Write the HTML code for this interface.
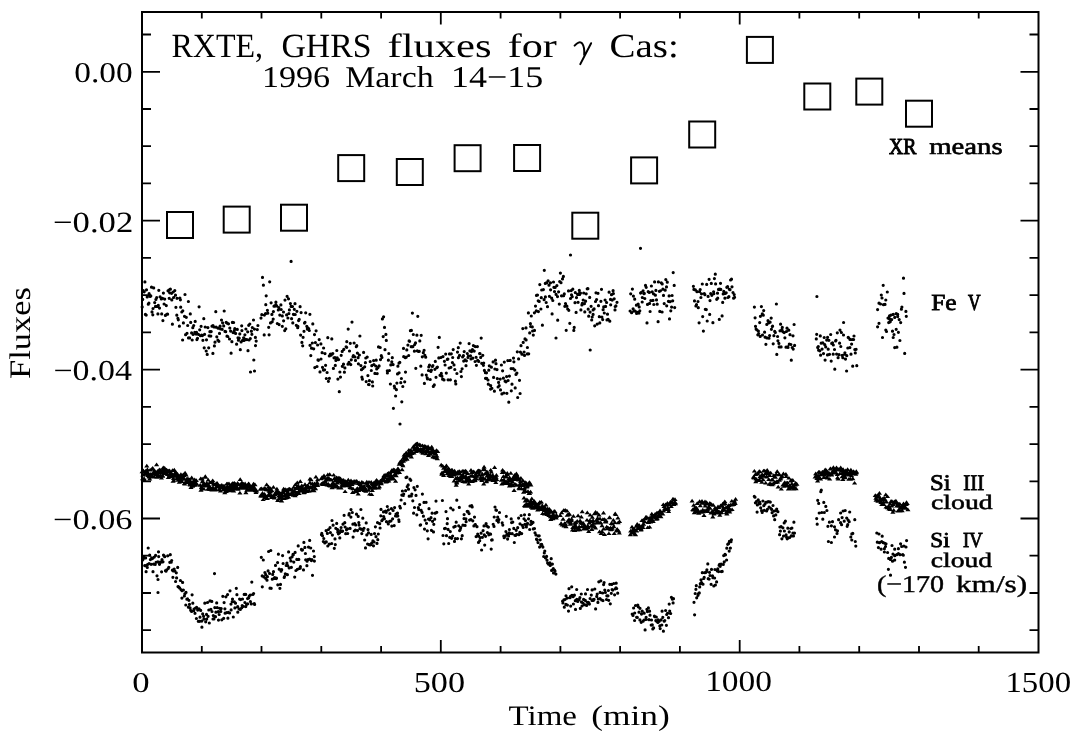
<!DOCTYPE html>
<html><head><meta charset="utf-8"><style>
html,body{margin:0;padding:0;background:#fff;overflow:hidden;}
svg{display:block;will-change:transform;}
text{font-family:"Liberation Serif",serif;text-rendering:geometricPrecision;}
</style></head><body>
<svg width="1078" height="738" viewBox="0 0 1078 738">
<rect width="1078" height="738" fill="#fff"/>
<rect x="142.0" y="12" width="896.5" height="640.5" fill="none" stroke="#000" stroke-width="2"/><path d="M142.0 34.5h9M1038.5 34.5h-9M142.0 71.8h18M1038.5 71.8h-18M142.0 109.0h9M1038.5 109.0h-9M142.0 146.2h9M1038.5 146.2h-9M142.0 183.4h9M1038.5 183.4h-9M142.0 220.7h18M1038.5 220.7h-18M142.0 257.9h9M1038.5 257.9h-9M142.0 295.1h9M1038.5 295.1h-9M142.0 332.4h9M1038.5 332.4h-9M142.0 369.6h18M1038.5 369.6h-18M142.0 406.8h9M1038.5 406.8h-9M142.0 444.1h9M1038.5 444.1h-9M142.0 481.3h9M1038.5 481.3h-9M142.0 518.5h18M1038.5 518.5h-18M142.0 555.7h9M1038.5 555.7h-9M142.0 593.0h9M1038.5 593.0h-9M142.0 630.2h9M1038.5 630.2h-9M201.8 652.5v-6.4M201.8 12v6.4M261.5 652.5v-6.4M261.5 12v6.4M321.3 652.5v-6.4M321.3 12v6.4M381.1 652.5v-6.4M381.1 12v6.4M440.8 652.5v-12.5M440.8 12v12.5M500.6 652.5v-6.4M500.6 12v6.4M560.4 652.5v-6.4M560.4 12v6.4M620.1 652.5v-6.4M620.1 12v6.4M679.9 652.5v-6.4M679.9 12v6.4M739.7 652.5v-12.5M739.7 12v12.5M799.4 652.5v-6.4M799.4 12v6.4M859.2 652.5v-6.4M859.2 12v6.4M919.0 652.5v-6.4M919.0 12v6.4M978.7 652.5v-6.4M978.7 12v6.4" stroke="#000" stroke-width="1.8" fill="none"/><g fill="none" stroke="#000" stroke-width="2"><rect x="167.00" y="212.00" width="26" height="26"/><rect x="223.70" y="206.60" width="26" height="26"/><rect x="281.00" y="204.70" width="26" height="26"/><rect x="338.20" y="155.10" width="26" height="26"/><rect x="396.80" y="159.00" width="26" height="26"/><rect x="454.60" y="145.20" width="26" height="26"/><rect x="514.10" y="145.00" width="26" height="26"/><rect x="572.30" y="212.70" width="26" height="26"/><rect x="631.10" y="157.40" width="26" height="26"/><rect x="689.20" y="121.50" width="26" height="26"/><rect x="746.90" y="36.90" width="26" height="26"/><rect x="804.30" y="83.50" width="26" height="26"/><rect x="856.30" y="78.60" width="26" height="26"/><rect x="906.00" y="100.70" width="26" height="26"/></g><path d="M142.2 306.9h0M142.7 299.4h0M143.3 290.6h0M144.2 291.8h0M144.9 281.9h0M145.4 314.4h0M146.2 315.1h0M146.5 289.8h0M147.2 296.9h0M148.3 304.2h0M148.9 303.2h0M149.1 293.7h0M150.2 296.5h0M150.8 295.9h0M151.5 287.2h0M152.0 311.9h0M152.8 314.8h0M153.0 308.5h0M153.7 287.9h0M154.7 302.6h0M155.5 306.4h0M155.9 299.4h0M156.7 297.6h0M157.3 306.4h0M157.9 313.9h0M158.3 305.3h0M158.8 290.3h0M159.5 308.1h0M160.1 296.8h0M161.3 298.9h0M161.7 313.9h0M162.5 298.3h0M162.9 320.6h0M163.4 293.1h0M164.1 304.0h0M164.7 299.1h0M165.4 315.4h0M166.3 305.6h0M166.9 314.3h0M167.6 314.2h0M168.0 290.8h0M168.8 290.0h0M169.2 298.3h0M169.7 292.8h0M170.4 289.2h0M171.6 293.3h0M171.8 299.9h0M172.4 324.2h0M173.2 292.0h0M173.6 297.5h0M174.8 290.6h0M175.5 295.2h0M175.9 307.3h0M176.8 315.2h0M177.0 298.3h0M177.9 318.3h0M178.3 319.8h0M179.4 326.2h0M179.9 298.0h0M180.4 299.8h0M180.7 307.2h0M181.8 312.0h0M182.6 340.0h0M182.8 310.8h0M183.4 322.9h0M184.5 316.3h0M185.0 294.5h0M185.6 334.7h0M186.3 317.3h0M187.0 333.3h0M187.7 325.5h0M188.4 301.5h0M188.5 337.9h0M189.6 337.9h0M190.3 313.9h0M190.7 322.4h0M191.6 332.9h0M192.2 340.0h0M192.8 327.7h0M193.1 334.5h0M193.7 325.5h0M194.8 332.3h0M195.2 321.4h0M196.1 334.1h0M196.5 332.3h0M196.9 339.6h0M197.5 338.3h0M198.4 334.3h0M199.1 306.8h0M199.7 329.8h0M200.5 335.7h0M201.1 326.3h0M201.7 335.0h0M202.4 335.6h0M202.9 340.3h0M203.8 318.7h0M204.2 347.8h0M204.6 334.3h0M205.2 327.0h0M206.2 351.0h0M206.5 339.8h0M207.2 354.4h0M207.9 327.6h0M208.7 347.8h0M209.1 335.8h0M209.9 331.7h0M210.8 336.1h0M211.2 331.6h0M212.0 326.2h0M212.9 353.4h0M213.0 325.5h0M214.0 327.0h0M214.4 345.9h0M215.0 342.2h0M215.8 311.7h0M216.1 327.2h0M216.8 336.8h0M217.9 340.2h0M218.1 328.2h0M218.9 341.3h0M219.5 333.4h0M220.1 326.2h0M220.7 329.0h0M221.5 320.0h0M222.2 329.3h0M222.6 322.8h0M223.7 325.9h0M224.2 311.0h0M225.0 331.4h0M225.7 331.7h0M226.2 322.4h0M227.0 336.2h0M227.3 323.2h0M227.8 336.5h0M228.5 323.8h0M229.5 339.0h0M229.8 328.0h0M230.6 331.1h0M231.1 353.2h0M231.9 341.7h0M232.4 322.4h0M233.1 332.6h0M233.6 322.5h0M234.3 330.6h0M234.8 328.7h0M235.6 333.4h0M236.6 344.2h0M237.3 329.4h0M238.0 337.8h0M238.4 340.2h0M239.2 338.2h0M239.8 333.9h0M240.3 349.7h0M241.1 341.9h0M241.7 325.8h0M241.9 330.6h0M242.6 340.3h0M243.6 337.8h0M244.1 340.4h0M244.9 334.8h0M245.5 339.3h0M245.9 329.0h0M246.9 339.6h0M247.7 331.8h0M248.0 350.7h0M248.7 325.3h0M249.1 340.0h0M249.8 324.0h0M250.3 338.6h0M251.4 331.2h0M251.9 334.3h0M252.3 327.5h0M253.5 320.0h0M253.8 360.0h0M254.4 329.1h0M255.4 337.4h0M255.5 345.6h0M256.2 341.1h0M257.3 329.6h0M257.9 325.5h0M261.0 318.1h0M261.8 314.7h0M262.5 277.4h0M263.4 285.2h0M264.2 334.9h0M264.4 315.1h0M265.5 313.7h0M265.8 304.7h0M266.2 295.8h0M267.4 310.3h0M267.8 313.2h0M268.7 327.3h0M269.1 334.8h0M269.7 281.8h0M270.5 322.9h0M271.1 302.8h0M271.9 314.4h0M272.2 321.8h0M273.2 319.1h0M273.4 311.6h0M274.0 306.2h0M275.1 306.1h0M275.8 304.8h0M275.9 302.2h0M276.7 305.9h0M277.3 323.5h0M278.3 310.0h0M278.8 307.7h0M279.1 324.6h0M279.8 315.1h0M280.9 304.9h0M281.2 309.5h0M282.3 326.3h0M282.3 315.9h0M283.5 312.0h0M283.6 320.8h0M284.7 330.6h0M285.0 300.1h0M285.8 328.8h0M286.6 314.9h0M287.1 296.3h0M287.9 318.0h0M288.5 298.8h0M288.9 313.6h0M289.4 309.9h0M290.4 303.6h0M291.1 306.4h0M291.6 318.7h0M292.5 306.5h0M292.8 322.9h0M293.4 314.3h0M294.3 309.3h0M295.0 303.7h0M295.2 314.5h0M296.3 325.3h0M296.9 311.3h0M297.7 327.7h0M297.9 326.4h0M298.6 320.6h0M299.2 319.4h0M300.1 306.7h0M300.6 335.1h0M301.1 312.6h0M301.9 342.4h0M302.7 345.8h0M303.1 337.3h0M304.0 331.3h0M304.5 323.1h0M305.0 322.3h0M305.7 312.8h0M306.8 326.3h0M307.3 329.1h0M307.5 327.5h0M308.7 328.6h0M309.3 330.5h0M309.9 314.3h0M310.0 345.3h0M310.8 355.6h0M311.5 348.2h0M312.3 343.0h0M312.8 323.9h0M313.7 348.8h0M314.5 334.6h0M314.8 367.6h0M315.4 342.6h0M316.1 330.8h0M317.0 366.5h0M317.6 345.0h0M318.0 359.9h0M318.4 360.3h0M319.2 339.6h0M320.0 371.9h0M320.9 343.9h0M321.0 359.0h0M322.1 352.7h0M322.5 367.3h0M323.4 370.1h0M323.6 348.0h0M324.6 369.8h0M325.0 353.6h0M325.6 365.3h0M326.3 378.5h0M327.1 372.5h0M327.8 337.7h0M328.4 381.3h0M329.3 355.9h0M329.4 378.3h0M330.4 354.1h0M331.2 355.1h0M331.8 338.9h0M332.3 353.9h0M332.8 353.5h0M333.4 368.4h0M334.0 357.8h0M335.0 357.5h0M335.3 365.4h0M335.9 360.4h0M336.8 350.5h0M337.2 357.8h0M337.9 379.1h0M338.6 359.6h0M339.3 391.7h0M339.9 372.0h0M340.5 377.1h0M341.2 355.3h0M342.2 351.4h0M342.3 366.3h0M343.5 364.2h0M343.8 349.4h0M344.4 372.2h0M344.9 367.9h0M346.1 346.8h0M346.7 347.3h0M346.8 341.7h0M348.0 364.2h0M348.2 329.1h0M349.0 362.4h0M349.5 351.0h0M350.3 343.3h0M350.8 364.6h0M351.3 359.8h0M352.0 322.1h0M353.0 356.7h0M353.4 355.7h0M354.1 343.0h0M354.8 356.8h0M355.5 360.4h0M356.3 346.7h0M356.8 345.7h0M357.4 353.1h0M358.1 357.7h0M358.4 363.8h0M359.4 355.0h0M359.9 336.0h0M360.9 365.6h0M361.5 369.7h0M361.9 377.2h0M362.4 379.2h0M362.9 368.4h0M363.6 352.4h0M364.7 366.8h0M365.4 362.7h0M365.8 358.0h0M366.2 381.6h0M367.2 357.1h0M367.9 375.6h0M368.5 384.5h0M369.1 384.6h0M369.4 380.7h0M370.2 361.6h0M371.3 370.5h0M371.8 365.7h0M372.4 381.9h0M372.7 386.0h0M373.6 360.6h0M373.9 364.5h0M374.9 373.4h0M375.7 366.0h0M376.2 360.2h0M376.7 369.0h0M377.2 373.6h0M377.9 367.7h0M378.5 346.9h0M379.1 365.9h0M380.2 347.5h0M380.5 359.6h0M381.3 355.7h0M381.9 357.4h0M382.4 318.9h0M383.2 336.6h0M383.6 316.8h0M384.5 327.4h0M385.0 349.7h0M385.9 334.4h0M386.3 340.4h0M387.3 370.8h0M387.4 372.9h0M388.4 360.2h0M388.8 353.5h0M389.4 370.5h0M390.4 384.0h0M390.8 364.9h0M391.8 361.8h0M392.3 357.7h0M393.1 364.6h0M393.4 408.3h0M394.3 386.2h0M394.7 387.9h0M395.6 396.0h0M396.4 389.7h0M396.9 383.1h0M397.5 373.9h0M397.9 366.2h0M399.0 363.1h0M399.1 372.8h0M399.8 362.4h0M400.8 382.7h0M401.4 378.5h0M401.8 401.8h0M402.8 386.5h0M403.5 348.4h0M403.7 356.7h0M404.7 381.8h0M405.4 357.7h0M405.5 372.1h0M406.2 357.2h0M406.8 349.9h0M407.9 345.1h0M408.7 355.5h0M409.1 340.9h0M409.6 341.3h0M410.4 330.7h0M411.2 346.7h0M411.4 330.4h0M412.4 313.1h0M412.9 346.6h0M413.3 334.5h0M414.4 351.2h0M414.7 344.5h0M415.5 342.9h0M415.8 368.3h0M416.9 335.2h0M417.3 350.8h0M417.8 316.3h0M418.5 351.5h0M419.3 351.3h0M419.8 340.9h0M420.8 366.2h0M421.2 335.3h0M422.1 374.9h0M422.3 356.8h0M423.3 352.7h0M424.1 350.3h0M424.4 383.4h0M424.9 355.3h0M425.7 357.2h0M426.3 375.1h0M427.2 377.8h0M427.5 379.0h0M428.5 370.5h0M428.8 366.9h0M429.5 365.2h0M430.2 379.5h0M430.9 371.5h0M431.4 370.2h0M432.4 366.5h0M432.9 365.6h0M433.3 386.4h0M434.3 384.9h0M434.9 369.3h0M435.3 361.4h0M436.0 377.3h0M436.8 367.7h0M437.4 367.1h0M438.1 347.3h0M438.8 357.9h0M439.3 337.4h0M440.0 375.3h0M440.9 357.5h0M441.3 373.4h0M441.9 376.2h0M442.6 379.2h0M443.0 356.6h0M444.0 379.9h0M444.4 361.3h0M445.1 365.0h0M445.7 354.1h0M446.3 373.1h0M447.3 359.4h0M447.9 359.1h0M448.1 379.8h0M449.1 368.0h0M449.5 353.9h0M450.4 379.8h0M450.9 367.3h0M451.3 353.8h0M452.4 362.5h0M452.7 357.5h0M453.2 349.6h0M454.0 364.9h0M454.8 369.5h0M455.4 381.2h0M455.8 383.9h0M456.9 373.5h0M457.5 352.1h0M458.3 347.7h0M458.4 357.7h0M459.5 355.4h0M460.2 343.1h0M460.9 371.5h0M461.4 376.6h0M462.1 368.8h0M462.6 356.9h0M463.4 355.7h0M463.7 361.1h0M464.2 351.6h0M465.1 359.9h0M466.0 365.7h0M466.4 360.8h0M467.3 353.5h0M468.0 357.4h0M468.4 356.0h0M469.1 343.6h0M469.9 350.8h0M470.5 355.8h0M471.0 359.0h0M471.5 351.6h0M472.4 349.6h0M472.8 358.2h0M473.4 345.6h0M474.2 351.1h0M475.1 361.5h0M475.3 346.6h0M476.1 357.3h0M476.4 365.3h0M477.4 346.6h0M477.7 360.3h0M478.7 361.4h0M479.6 353.6h0M480.0 353.6h0M480.7 357.4h0M481.2 338.1h0M481.7 363.3h0M482.8 355.3h0M483.4 365.3h0M483.7 363.0h0M484.4 370.4h0M485.4 372.7h0M485.5 378.3h0M486.5 372.8h0M486.7 378.3h0M488.0 380.0h0M488.3 384.2h0M488.8 370.2h0M489.3 365.8h0M490.6 389.1h0M490.7 385.7h0M491.4 367.2h0M491.9 388.3h0M493.1 361.9h0M493.6 377.4h0M494.4 391.2h0M494.9 369.0h0M495.5 360.2h0M496.0 363.7h0M497.0 369.6h0M497.3 378.6h0M498.1 387.0h0M498.6 382.4h0M499.2 385.7h0M500.2 379.1h0M500.5 389.9h0M501.4 365.0h0M501.9 393.9h0M502.6 370.8h0M503.4 378.2h0M503.9 393.0h0M504.3 362.1h0M505.1 381.2h0M506.0 381.8h0M506.6 376.6h0M506.9 393.3h0M507.8 360.6h0M508.1 380.5h0M508.8 402.2h0M509.4 376.1h0M510.2 360.4h0M511.1 368.6h0M511.3 390.8h0M512.0 384.2h0M513.1 368.6h0M513.5 358.1h0M513.9 361.8h0M514.8 370.1h0M515.2 387.9h0M516.0 374.4h0M516.9 373.1h0M517.3 351.8h0M517.7 397.5h0M518.6 358.9h0M519.5 380.3h0M520.1 393.5h0M520.4 352.1h0M521.0 345.7h0M521.9 354.2h0M522.8 328.6h0M523.2 342.4h0M524.1 352.0h0M524.5 355.4h0M525.0 338.9h0M526.0 327.9h0M526.1 339.9h0M527.3 353.9h0M527.4 347.5h0M528.4 312.9h0M528.7 353.8h0M529.7 332.9h0M530.4 323.7h0M530.7 326.5h0M531.3 316.0h0M532.3 326.9h0M532.6 331.0h0M533.3 335.1h0M534.4 312.8h0M534.5 330.4h0M535.5 306.1h0M536.3 310.9h0M536.5 295.4h0M537.5 295.0h0M538.2 300.8h0M538.4 311.6h0M539.2 301.4h0M539.8 284.6h0M540.9 309.0h0M541.3 297.7h0M541.7 290.0h0M542.4 325.2h0M543.4 289.6h0M544.1 299.7h0M544.3 270.3h0M545.3 283.4h0M545.4 296.9h0M546.2 302.5h0M546.8 282.7h0M547.5 306.7h0M548.1 280.8h0M549.0 285.2h0M549.4 296.3h0M550.5 282.8h0M550.6 289.8h0M551.7 298.2h0M552.1 313.9h0M552.8 300.5h0M553.5 282.0h0M553.9 287.3h0M554.5 291.6h0M555.1 287.4h0M556.1 294.4h0M556.9 285.6h0M557.5 296.6h0M557.7 320.2h0M558.6 291.8h0M559.3 304.1h0M559.7 281.5h0M560.4 273.1h0M561.0 282.7h0M561.5 295.8h0M562.5 278.9h0M563.4 276.4h0M563.6 295.7h0M564.3 293.9h0M564.8 306.3h0M565.5 303.5h0M566.2 330.3h0M566.9 306.2h0M567.7 309.0h0M568.5 290.9h0M568.8 310.3h0M569.8 323.3h0M570.5 298.5h0M571.2 290.6h0M571.5 294.8h0M572.2 296.7h0M572.8 289.2h0M573.8 330.4h0M574.2 327.4h0M575.0 302.7h0M575.3 292.6h0M576.1 312.4h0M576.5 297.6h0M577.6 294.4h0M578.1 302.3h0M578.9 293.6h0M579.3 290.4h0M579.7 294.4h0M580.5 293.1h0M580.9 309.9h0M581.9 304.9h0M582.3 303.3h0M583.2 300.0h0M583.7 293.0h0M584.4 303.7h0M584.8 311.9h0M585.6 301.2h0M586.2 293.8h0M587.2 288.8h0M587.9 288.7h0M588.2 309.2h0M588.7 316.2h0M589.7 297.4h0M590.1 312.1h0M591.1 306.3h0M591.7 320.0h0M592.2 317.0h0M593.1 314.4h0M593.1 309.9h0M594.1 308.9h0M594.7 325.8h0M595.5 301.5h0M596.0 292.8h0M596.6 299.5h0M597.2 324.1h0M598.0 293.3h0M598.5 305.7h0M599.3 316.7h0M599.8 322.9h0M600.9 301.3h0M601.5 289.3h0M601.9 317.1h0M602.7 319.6h0M603.1 309.7h0M603.7 306.9h0M604.3 313.0h0M605.1 300.0h0M605.6 306.4h0M606.6 302.5h0M607.0 319.9h0M607.5 314.2h0M608.1 319.3h0M609.1 292.2h0M609.8 321.2h0M610.5 299.4h0M610.7 304.8h0M611.5 294.7h0M612.2 300.1h0M613.1 290.7h0M613.4 293.6h0M614.2 298.8h0M615.0 309.9h0M615.2 306.5h0M615.9 305.9h0M617.0 302.3h0M630.1 311.0h0M630.7 293.8h0M631.6 312.7h0M632.4 289.1h0M633.1 308.8h0M633.4 296.1h0M633.9 311.1h0M634.7 299.2h0M635.2 311.1h0M636.4 305.2h0M636.6 313.5h0M637.6 312.3h0M638.2 304.2h0M639.0 313.1h0M639.2 306.9h0M639.8 310.8h0M640.6 293.1h0M641.0 292.7h0M642.2 302.0h0M642.3 297.5h0M643.1 290.8h0M644.0 293.7h0M644.3 293.4h0M644.8 298.5h0M645.5 285.4h0M646.2 287.3h0M647.0 322.9h0M647.5 304.4h0M648.2 291.7h0M649.3 292.4h0M649.6 303.4h0M650.1 311.5h0M650.8 300.5h0M651.4 286.0h0M652.2 291.8h0M653.0 300.4h0M653.5 293.8h0M653.8 304.5h0M654.6 281.9h0M655.4 295.2h0M655.9 290.4h0M656.5 299.9h0M657.2 304.2h0M658.1 321.7h0M658.4 281.9h0M659.4 291.3h0M659.8 311.4h0M660.4 290.8h0M661.3 282.8h0M662.1 312.0h0M662.2 283.9h0M662.9 289.2h0M663.5 295.4h0M664.2 303.6h0M665.2 290.2h0M665.8 279.6h0M666.5 286.9h0M666.7 305.8h0M667.3 282.2h0M668.4 301.3h0M669.1 295.9h0M669.5 318.9h0M670.0 301.7h0M670.8 310.8h0M671.6 307.1h0M672.1 295.5h0M672.7 300.8h0M673.2 272.6h0M674.2 285.4h0M674.7 307.6h0M693.4 286.3h0M693.9 289.4h0M694.5 300.9h0M695.4 289.9h0M695.9 306.0h0M696.5 304.7h0M697.0 291.7h0M698.0 301.5h0M698.3 307.7h0M699.1 322.8h0M699.5 291.6h0M700.2 289.6h0M700.9 297.5h0M701.5 293.8h0M702.3 284.0h0M702.7 316.6h0M703.4 331.1h0M704.3 293.6h0M704.9 294.7h0M705.3 309.3h0M706.3 309.6h0M706.7 284.4h0M707.2 321.0h0M708.1 296.4h0M709.1 279.3h0M709.7 314.4h0M710.0 300.6h0M710.7 293.6h0M711.3 283.4h0M711.8 295.3h0M712.9 322.7h0M713.6 291.8h0M713.8 293.7h0M714.4 278.6h0M715.3 274.2h0M715.6 283.9h0M716.7 299.3h0M717.5 293.2h0M717.7 298.2h0M718.5 289.4h0M719.3 319.4h0M719.6 289.2h0M720.5 283.3h0M720.8 289.4h0M722.1 315.9h0M722.7 302.4h0M723.2 293.9h0M723.8 291.4h0M724.6 292.9h0M724.9 298.2h0M725.3 293.5h0M726.2 292.8h0M726.8 287.3h0M727.6 286.7h0M728.0 297.5h0M728.9 296.7h0M729.3 289.3h0M730.0 289.7h0M730.6 280.0h0M731.5 279.2h0M732.0 286.8h0M733.0 292.5h0M733.6 298.2h0M734.2 294.6h0M734.6 297.3h0M754.4 307.1h0M755.1 317.8h0M755.5 326.3h0M756.1 329.1h0M756.8 329.8h0M757.8 334.8h0M758.4 331.0h0M758.7 333.5h0M759.7 322.6h0M760.2 336.4h0M760.4 316.3h0M761.4 306.6h0M762.3 313.9h0M762.5 335.0h0M763.3 315.2h0M763.7 310.6h0M764.6 332.2h0M765.1 337.2h0M765.9 344.3h0M766.8 324.4h0M766.9 337.9h0M768.0 320.7h0M768.6 322.9h0M769.0 338.2h0M769.6 335.6h0M770.1 322.2h0M771.2 318.1h0M771.4 329.3h0M772.3 326.6h0M772.6 326.2h0M773.2 343.8h0M773.9 335.7h0M774.7 331.4h0M775.3 332.4h0M776.4 304.0h0M776.8 354.4h0M777.6 336.5h0M777.9 340.8h0M778.9 343.4h0M779.2 346.9h0M780.0 330.8h0M780.6 324.2h0M781.1 346.9h0M781.9 329.6h0M782.3 327.4h0M782.8 331.6h0M783.8 332.3h0M784.2 332.6h0M784.9 337.8h0M786.0 347.2h0M786.4 331.5h0M787.0 328.2h0M787.8 346.8h0M788.0 347.5h0M788.8 330.2h0M789.3 344.2h0M790.0 334.7h0M790.9 344.5h0M791.3 360.2h0M792.2 347.5h0M793.0 335.8h0M793.2 349.1h0M794.1 324.5h0M794.6 345.4h0M816.3 338.9h0M816.7 334.3h0M817.7 347.4h0M818.3 346.5h0M818.6 350.2h0M819.8 350.8h0M820.3 335.9h0M820.6 355.2h0M821.2 343.2h0M822.1 349.1h0M822.8 342.8h0M823.5 353.6h0M824.2 337.5h0M824.8 344.7h0M825.1 360.1h0M825.7 346.9h0M826.7 340.1h0M827.5 354.9h0M827.6 337.3h0M828.2 349.2h0M828.9 340.3h0M829.5 354.3h0M830.7 334.5h0M831.2 361.1h0M831.7 343.4h0M832.5 342.8h0M833.2 354.2h0M833.3 345.0h0M834.5 349.5h0M834.8 369.2h0M835.6 340.9h0M836.0 340.3h0M836.6 354.1h0M837.3 332.8h0M838.1 357.7h0M839.0 354.7h0M839.6 343.2h0M840.0 330.1h0M840.8 346.5h0M841.4 332.5h0M842.2 355.4h0M842.8 357.7h0M843.5 335.0h0M843.6 322.5h0M844.8 354.2h0M844.9 352.8h0M845.5 359.1h0M846.6 371.0h0M846.8 355.7h0M847.8 348.0h0M848.2 337.4h0M848.7 337.8h0M849.9 347.6h0M850.0 339.4h0M851.0 354.2h0M851.6 344.1h0M852.2 339.5h0M852.7 366.2h0M853.6 339.5h0M854.0 336.0h0M854.8 349.5h0M855.3 352.9h0M856.1 349.3h0M856.8 365.7h0M883.2 285.3h0M887.3 292.0h0M881.3 295.0h0M882.0 298.0h0M885.8 300.0h0M879.0 303.2h0M880.5 304.0h0M883.5 304.7h0M885.0 304.4h0M877.6 309.6h0M903.5 278.2h0M904.0 293.4h0M901.9 307.0h0M901.4 309.2h0M905.9 311.4h0M906.3 316.3h0M889.5 315.9h0M891.0 315.1h0M893.2 314.4h0M896.2 313.7h0M897.7 314.4h0M888.0 318.1h0M889.5 318.9h0M891.7 319.6h0M894.7 317.4h0M897.7 316.6h0M888.7 322.6h0M890.2 321.8h0M899.2 319.6h0M900.7 322.6h0M879.0 323.3h0M877.6 326.8h0M885.8 330.0h0M886.5 331.5h0M892.5 331.2h0M896.2 329.3h0M898.4 332.3h0M894.0 334.5h0M893.2 337.5h0M882.5 337.5h0M899.9 340.5h0M894.7 347.6h0M896.9 347.2h0M904.7 353.4h0M250.5 372.0h0M254.5 371.0h0M291.1 261.4h0M570.5 255.0h0M556.0 338.0h0M590.2 350.0h0M640.5 248.3h0M816.9 296.5h0M400.0 424.0h0M142.5 560.1h0M142.9 559.6h0M143.6 556.8h0M144.7 565.6h0M145.3 565.7h0M145.6 557.9h0M146.1 571.7h0M147.3 567.4h0M147.5 564.6h0M148.2 548.0h0M149.1 563.6h0M149.7 555.2h0M150.4 559.6h0M151.1 564.3h0M151.7 557.9h0M152.4 558.6h0M153.0 571.7h0M153.6 564.1h0M154.3 557.1h0M155.2 564.4h0M155.6 555.4h0M156.1 562.3h0M157.0 575.8h0M157.9 561.8h0M158.5 551.8h0M158.7 556.6h0M159.5 564.3h0M160.2 562.2h0M161.3 562.1h0M161.6 571.8h0M162.0 559.5h0M163.0 561.8h0M163.5 555.1h0M164.1 555.9h0M164.7 556.7h0M165.5 570.7h0M166.0 571.2h0M166.7 569.9h0M167.7 555.8h0M168.2 568.5h0M168.8 567.3h0M169.8 562.3h0M170.3 554.7h0M171.2 562.2h0M171.7 560.5h0M172.4 570.2h0M172.9 577.3h0M173.3 570.9h0M174.2 569.1h0M174.9 571.1h0M175.6 581.5h0M176.3 572.8h0M176.6 577.9h0M177.7 567.4h0M178.0 586.6h0M178.6 586.9h0M179.6 587.9h0M180.4 580.5h0M181.0 589.6h0M181.9 598.1h0M182.0 590.7h0M182.6 582.4h0M183.4 590.0h0M184.4 596.0h0M184.8 593.9h0M185.8 605.0h0M186.0 592.4h0M186.9 599.2h0M187.5 598.9h0M188.4 607.2h0M188.9 600.3h0M189.5 604.3h0M190.1 607.9h0M190.7 610.3h0M191.6 611.5h0M192.1 594.8h0M192.8 603.2h0M193.8 610.6h0M194.0 609.2h0M195.0 613.3h0M195.6 608.0h0M196.4 618.5h0M196.6 607.4h0M197.7 610.1h0M198.3 621.3h0M199.0 608.9h0M199.6 621.3h0M200.0 617.2h0M200.7 610.4h0M201.8 621.1h0M201.9 627.2h0M202.7 613.9h0M203.6 616.3h0M203.9 619.1h0M204.8 603.2h0M205.7 621.8h0M206.5 614.4h0M206.7 619.1h0M207.5 602.5h0M208.1 616.3h0M208.8 610.0h0M209.3 623.0h0M210.0 600.9h0M210.9 609.3h0M211.8 601.4h0M212.0 611.5h0M213.0 619.0h0M213.3 615.6h0M213.9 618.9h0M214.8 607.6h0M215.5 616.7h0M215.9 612.2h0M216.7 602.9h0M217.2 607.6h0M218.3 611.7h0M218.5 620.1h0M219.2 614.5h0M219.8 608.3h0M220.8 611.4h0M221.2 608.6h0M221.8 619.8h0M222.8 596.3h0M223.7 618.3h0M224.1 602.6h0M224.9 608.8h0M225.1 613.2h0M225.9 596.8h0M226.8 612.6h0M227.6 594.6h0M227.9 618.2h0M228.4 612.3h0M229.6 613.0h0M230.0 590.8h0M231.0 604.1h0M231.1 609.9h0M232.2 601.6h0M232.5 599.0h0M233.3 617.0h0M234.3 601.8h0M234.9 607.9h0M235.5 603.2h0M236.3 588.3h0M236.9 594.7h0M237.7 606.7h0M237.8 612.2h0M239.0 608.8h0M239.6 599.1h0M240.3 609.4h0M240.6 599.6h0M241.7 607.8h0M242.2 605.5h0M242.5 599.0h0M243.2 606.4h0M244.2 594.4h0M244.9 602.5h0M245.7 594.4h0M245.8 606.6h0M246.6 604.4h0M247.6 598.6h0M247.7 603.8h0M248.6 597.9h0M249.2 596.2h0M250.2 595.1h0M250.4 601.5h0M251.3 603.9h0M251.8 582.1h0M252.9 594.4h0M253.6 593.5h0M254.3 603.6h0M254.6 604.4h0M261.3 557.3h0M262.2 575.9h0M262.3 586.8h0M263.3 560.0h0M263.9 576.9h0M264.9 572.5h0M265.6 578.3h0M265.7 574.4h0M267.0 580.2h0M267.4 576.7h0M268.1 570.9h0M268.6 551.5h0M269.6 573.5h0M270.0 588.2h0M270.8 550.5h0M271.2 588.3h0M272.3 579.2h0M272.7 574.4h0M273.5 571.7h0M274.2 578.5h0M274.6 577.5h0M275.5 565.4h0M276.3 578.6h0M276.5 578.2h0M277.6 562.6h0M277.8 584.8h0M278.4 554.2h0M279.2 569.2h0M279.9 588.3h0M280.5 584.4h0M281.1 571.2h0M281.7 569.7h0M282.6 555.6h0M283.1 563.5h0M284.2 577.4h0M284.5 576.6h0M285.3 573.8h0M286.2 565.5h0M286.9 563.0h0M287.4 574.7h0M287.7 565.7h0M288.6 551.9h0M289.2 567.9h0M290.2 558.1h0M290.9 560.9h0M291.4 567.3h0M292.1 556.8h0M293.0 554.4h0M293.3 554.7h0M293.8 562.1h0M294.7 577.1h0M295.1 552.4h0M295.9 570.5h0M296.8 559.4h0M297.4 569.3h0M298.2 545.9h0M298.8 559.4h0M299.6 568.4h0M300.2 568.2h0M300.4 566.7h0M301.4 549.4h0M302.1 550.2h0M302.5 549.8h0M303.5 569.9h0M303.9 542.4h0M304.9 547.4h0M305.4 553.5h0M305.7 559.8h0M306.9 565.7h0M307.1 561.2h0M307.9 559.7h0M308.5 547.1h0M309.6 559.1h0M309.7 540.4h0M310.7 548.0h0M311.4 560.6h0M311.9 559.5h0M312.5 575.3h0M313.5 551.0h0M314.3 556.6h0M314.4 561.1h0M321.5 534.7h0M321.8 533.4h0M322.5 535.7h0M323.3 541.5h0M323.8 538.5h0M324.8 543.0h0M325.6 542.1h0M326.1 530.7h0M326.3 541.9h0M327.4 533.4h0M327.8 546.0h0M328.5 529.5h0M329.2 544.2h0M330.0 527.7h0M330.4 532.6h0M331.7 543.5h0M332.0 520.5h0M332.4 535.1h0M333.1 525.2h0M334.3 548.3h0M335.0 538.9h0M335.3 544.6h0M335.8 528.3h0M336.7 523.4h0M337.6 529.7h0M337.7 532.0h0M338.4 533.8h0M339.6 532.8h0M339.8 537.9h0M340.6 530.7h0M341.1 527.5h0M342.1 531.4h0M342.6 531.1h0M343.0 524.2h0M344.1 515.3h0M344.8 522.7h0M345.1 527.0h0M345.7 533.7h0M346.5 529.8h0M347.5 528.8h0M347.7 533.5h0M348.9 515.0h0M349.2 513.7h0M350.1 528.4h0M350.9 517.1h0M351.0 509.6h0M352.3 512.5h0M352.9 524.2h0M353.1 537.1h0M354.3 531.0h0M354.7 523.6h0M355.4 530.0h0M355.7 524.9h0M356.5 514.2h0M357.5 530.6h0M358.2 516.4h0M358.8 522.6h0M359.1 525.1h0M359.9 528.6h0M360.9 509.5h0M361.2 529.2h0M361.8 533.6h0M362.8 518.2h0M363.1 530.5h0M364.0 528.3h0M364.7 540.0h0M365.5 547.9h0M366.2 522.9h0M366.8 534.9h0M367.6 544.0h0M368.0 529.6h0M368.5 532.8h0M369.1 544.7h0M370.1 544.9h0M370.9 544.6h0M371.2 534.4h0M371.7 543.0h0M372.9 540.9h0M373.5 545.8h0M374.0 541.9h0M374.5 533.6h0M375.4 526.8h0M376.0 536.7h0M377.0 543.4h0M377.5 522.6h0M377.8 539.7h0M378.3 534.0h0M379.7 523.7h0M380.1 528.0h0M380.8 515.8h0M381.0 509.4h0M381.8 520.7h0M382.7 519.5h0M383.5 511.9h0M383.7 516.6h0M384.4 518.7h0M385.6 511.1h0M386.2 512.3h0M386.5 521.7h0M387.3 506.5h0M388.3 523.9h0M388.4 509.9h0M389.6 521.4h0M389.9 513.5h0M390.9 521.0h0M391.4 508.7h0M391.8 526.1h0M392.6 518.8h0M393.1 510.5h0M394.2 525.6h0M394.6 507.6h0M395.5 516.0h0M396.0 514.1h0M396.9 516.2h0M397.5 513.1h0M397.8 515.9h0M398.8 519.8h0M399.0 521.5h0M399.8 506.4h0M400.4 508.0h0M401.1 500.0h0M401.8 495.1h0M402.4 491.0h0M403.3 495.5h0M403.7 494.0h0M404.7 503.7h0M405.6 490.7h0M406.0 477.6h0M406.9 477.2h0M407.2 486.7h0M408.2 484.9h0M408.5 489.2h0M409.2 496.2h0M410.0 479.2h0M410.8 480.3h0M411.3 496.0h0M411.8 494.2h0M412.8 500.8h0M413.6 513.2h0M413.9 487.6h0M414.5 507.5h0M415.1 489.8h0M416.0 495.4h0M416.8 514.8h0M417.3 486.3h0M418.3 507.7h0M418.7 509.4h0M419.7 504.6h0M420.2 525.2h0M420.6 524.8h0M421.2 510.4h0M422.1 512.4h0M422.4 494.1h0M423.4 516.2h0M424.0 502.4h0M424.5 529.1h0M425.1 520.1h0M426.1 502.3h0M426.5 523.3h0M427.3 530.8h0M428.1 538.8h0M428.5 519.1h0M429.0 508.7h0M429.7 519.8h0M431.0 517.7h0M431.4 530.3h0M432.1 513.2h0M432.5 521.3h0M433.5 531.9h0M433.8 524.3h0M434.7 519.2h0M435.2 513.2h0M436.0 501.1h0M436.8 512.3h0M442.4 500.5h0M443.0 535.5h0M443.8 543.8h0M444.5 528.6h0M445.3 528.3h0M446.0 511.6h0M446.5 535.7h0M447.2 523.7h0M447.5 518.7h0M448.1 529.4h0M448.7 543.5h0M449.7 537.3h0M450.3 531.6h0M450.7 508.0h0M451.6 538.3h0M452.6 536.0h0M453.1 509.8h0M453.8 527.1h0M454.5 541.4h0M455.3 526.3h0M455.3 538.6h0M456.2 522.2h0M456.8 500.2h0M457.5 538.6h0M458.7 525.8h0M459.3 507.4h0M459.6 530.6h0M460.3 529.5h0M460.7 527.7h0M461.4 538.8h0M462.2 535.7h0M462.9 525.2h0M464.0 518.6h0M464.1 514.6h0M465.1 525.4h0M465.9 518.8h0M466.1 521.7h0M467.2 511.3h0M467.8 511.9h0M468.1 511.5h0M469.1 513.6h0M469.6 520.1h0M470.0 506.0h0M470.9 519.7h0M471.7 505.5h0M472.2 507.0h0M472.8 520.8h0M473.9 525.9h0M474.5 517.1h0M475.1 524.6h0M475.4 524.5h0M476.1 536.6h0M477.0 526.7h0M477.7 534.1h0M478.5 542.4h0M478.7 536.2h0M479.7 540.7h0M480.1 537.6h0M481.1 533.2h0M481.6 550.0h0M482.4 537.3h0M483.1 530.6h0M484.0 525.9h0M484.3 534.8h0M484.7 545.1h0M485.6 536.3h0M486.1 523.5h0M486.9 526.1h0M487.4 532.6h0M488.4 527.1h0M488.8 534.8h0M489.6 533.9h0M490.6 534.2h0M491.2 549.1h0M491.6 540.1h0M492.2 539.9h0M493.2 524.3h0M494.0 526.4h0M494.2 517.0h0M495.0 507.0h0M495.9 510.1h0M496.5 510.3h0M496.9 520.4h0M497.7 517.2h0M498.4 522.1h0M498.9 519.6h0M499.5 512.5h0M502.2 522.8h0M502.8 525.1h0M503.8 536.2h0M504.2 537.7h0M505.3 536.2h0M505.9 531.5h0M506.3 516.3h0M507.0 534.1h0M507.6 539.1h0M508.6 536.0h0M509.2 532.9h0M509.4 529.5h0M510.3 533.5h0M511.2 518.9h0M511.6 522.6h0M512.2 533.7h0M512.8 522.1h0M513.8 528.4h0M514.3 542.5h0M514.9 535.3h0M515.6 535.5h0M516.2 530.3h0M516.7 534.3h0M517.7 527.7h0M518.6 518.1h0M518.9 534.7h0M519.8 532.4h0M520.0 523.8h0M521.1 515.5h0M521.7 533.6h0M522.2 525.3h0M523.2 527.4h0M524.0 518.8h0M524.5 514.8h0M524.9 524.3h0M525.5 520.6h0M526.4 526.9h0M527.3 524.3h0M527.5 523.4h0M528.5 518.8h0M529.3 514.7h0M529.7 529.5h0M530.6 524.5h0M531.0 521.4h0M531.9 523.6h0M532.2 522.8h0M533.0 522.4h0M533.3 528.9h0M534.5 528.5h0M535.0 532.8h0M535.9 534.9h0M536.5 539.2h0M537.1 539.8h0M538.0 542.6h0M538.3 535.9h0M539.2 535.8h0M539.6 547.1h0M540.2 539.8h0M540.8 544.5h0M541.7 544.4h0M542.1 545.5h0M542.9 547.1h0M543.7 556.5h0M544.3 552.9h0M544.8 551.0h0M545.4 557.8h0M546.6 556.4h0M547.0 560.2h0M547.6 563.0h0M548.4 564.1h0M549.2 563.4h0M549.9 562.9h0M550.2 565.5h0M551.2 558.7h0M551.6 570.4h0M552.4 564.1h0M553.3 568.5h0M553.5 573.0h0M554.5 570.0h0M555.0 571.1h0M555.9 574.1h0M562.6 601.2h0M562.9 603.0h0M563.9 599.9h0M564.3 607.2h0M565.0 599.5h0M565.9 604.4h0M566.0 595.8h0M567.2 598.1h0M567.4 605.1h0M568.5 611.1h0M569.0 588.7h0M570.0 597.7h0M570.5 596.3h0M570.7 606.1h0M571.7 586.8h0M572.0 595.3h0M573.1 596.7h0M573.4 604.0h0M574.4 595.2h0M575.3 600.7h0M575.5 609.4h0M576.7 589.5h0M576.8 599.4h0M577.8 601.5h0M578.5 599.9h0M579.2 599.7h0M579.9 597.6h0M580.3 608.4h0M581.3 594.0h0M581.5 602.1h0M582.0 606.0h0M583.0 603.0h0M583.6 599.4h0M584.5 604.7h0M585.3 600.4h0M585.5 593.9h0M586.6 605.4h0M587.2 602.3h0M587.5 589.5h0M588.4 602.3h0M589.0 603.3h0M589.4 604.1h0M590.1 598.5h0M591.3 595.1h0M592.0 600.5h0M592.1 589.9h0M593.2 599.5h0M593.5 600.3h0M594.1 599.3h0M594.8 589.0h0M595.6 608.9h0M596.7 596.4h0M597.2 594.1h0M597.9 602.4h0M598.3 599.0h0M598.8 581.8h0M600.0 598.6h0M600.1 592.4h0M600.8 580.8h0M601.7 600.0h0M602.6 593.0h0M603.0 600.6h0M603.6 584.6h0M604.1 582.6h0M604.8 590.0h0M605.4 592.4h0M606.5 599.5h0M606.8 595.8h0M608.0 595.8h0M608.4 590.5h0M608.7 600.3h0M609.8 584.3h0M610.3 603.8h0M611.3 593.3h0M611.7 584.4h0M612.1 589.6h0M612.8 590.1h0M613.8 583.5h0M614.6 594.8h0M615.3 588.8h0M616.0 587.9h0M616.2 583.2h0M616.7 588.5h0M617.7 593.2h0M632.2 614.1h0M633.0 615.5h0M633.6 608.0h0M634.6 620.5h0M634.7 613.0h0M635.5 605.5h0M636.6 617.3h0M637.3 617.4h0M637.8 605.1h0M638.3 606.8h0M639.0 612.2h0M639.9 619.9h0M640.0 608.3h0M641.2 622.3h0M641.5 614.1h0M642.2 611.1h0M643.1 621.2h0M644.0 620.0h0M644.2 613.2h0M645.1 629.9h0M646.0 619.4h0M646.1 617.3h0M646.9 609.3h0M647.4 611.6h0M648.4 607.9h0M649.0 619.7h0M649.6 611.2h0M650.0 615.2h0M651.2 625.1h0M651.5 620.0h0M652.3 624.8h0M652.8 628.9h0M653.6 627.9h0M654.4 616.1h0M654.7 616.7h0M655.8 620.6h0M656.3 617.0h0M656.8 621.5h0M657.9 622.5h0M658.1 619.9h0M659.2 621.3h0M659.8 625.9h0M660.2 628.6h0M661.1 619.9h0M661.8 625.0h0M662.1 611.2h0M662.8 617.3h0M663.4 631.2h0M664.2 621.2h0M664.8 620.5h0M665.6 610.5h0M666.4 625.3h0M666.7 614.5h0M667.5 613.3h0M668.5 617.7h0M669.2 604.1h0M669.7 611.1h0M670.5 613.5h0M670.7 613.5h0M671.4 597.3h0M672.4 599.2h0M673.1 602.9h0M673.5 598.7h0M694.0 602.3h0M695.2 593.5h0M695.9 589.3h0M696.3 585.7h0M696.7 597.8h0M698.0 595.3h0M698.5 593.6h0M699.3 592.9h0M699.7 586.9h0M700.3 583.7h0M701.0 579.8h0M701.5 582.6h0M702.3 572.7h0M703.0 584.2h0M703.8 578.5h0M704.2 577.4h0M704.9 572.7h0M705.8 572.4h0M706.5 571.7h0M706.9 569.8h0M707.8 563.9h0M708.2 578.7h0M709.1 579.1h0M709.5 572.3h0M710.0 575.5h0M711.1 584.3h0M711.5 569.4h0M712.5 575.8h0M712.9 577.7h0M713.8 586.0h0M714.6 578.0h0M714.9 569.5h0M715.4 585.0h0M716.6 581.9h0M717.3 570.9h0M717.8 568.9h0M718.6 571.6h0M719.1 565.3h0M719.6 564.3h0M720.2 566.3h0M721.1 564.2h0M721.3 571.6h0M722.2 571.4h0M723.3 564.5h0M723.7 555.6h0M724.2 561.9h0M725.0 554.4h0M725.5 554.8h0M726.6 560.0h0M726.8 548.2h0M727.7 544.3h0M728.5 543.7h0M729.2 551.1h0M729.4 541.3h0M730.4 548.1h0M731.0 541.7h0M731.4 539.8h0M754.3 496.4h0M755.0 497.2h0M755.4 502.8h0M756.3 501.7h0M757.1 512.1h0M757.4 504.9h0M758.2 499.8h0M759.3 502.9h0M759.7 502.2h0M760.1 503.8h0M760.7 507.8h0M761.6 510.7h0M762.2 512.4h0M762.9 501.0h0M763.8 505.7h0M764.3 510.3h0M765.0 504.1h0M765.8 502.4h0M766.6 511.0h0M767.0 502.2h0M767.4 509.3h0M768.2 501.6h0M769.1 507.0h0M769.5 501.8h0M770.3 502.1h0M770.9 508.5h0M771.7 509.4h0M772.1 512.7h0M773.0 505.5h0M773.6 515.9h0M774.4 511.0h0M774.7 519.7h0M775.8 514.9h0M776.1 510.5h0M776.7 509.0h0M777.9 511.7h0M779.6 534.7h0M779.9 527.0h0M780.4 531.1h0M781.1 526.7h0M781.9 538.8h0M782.9 527.8h0M783.5 536.1h0M784.2 522.9h0M784.4 531.0h0M785.4 521.2h0M786.1 534.9h0M786.6 537.3h0M787.2 538.8h0M787.8 528.2h0M788.5 537.8h0M789.2 531.9h0M789.7 537.5h0M790.9 528.5h0M791.2 535.9h0M791.9 528.1h0M792.9 533.0h0M793.5 536.0h0M793.9 522.2h0M794.5 533.1h0M820.8 491.7h0M821.3 490.2h0M817.7 500.3h0M818.7 503.4h0M823.8 502.4h0M825.8 506.4h0M819.2 513.0h0M821.8 512.5h0M824.3 512.5h0M826.9 510.5h0M816.7 518.6h0M822.8 519.2h0M817.2 524.2h0M827.9 526.3h0M829.4 522.2h0M832.5 521.7h0M831.4 525.8h0M834.5 526.8h0M835.5 529.8h0M837.5 530.8h0M837.0 533.4h0M834.5 537.0h0M828.4 541.5h0M831.4 542.5h0M840.6 513.0h0M843.1 511.0h0M845.2 510.5h0M849.7 512.0h0M838.6 519.7h0M842.1 517.6h0M840.6 522.7h0M841.6 524.7h0M844.2 521.2h0M846.7 518.1h0M848.2 520.2h0M849.2 521.7h0M847.7 524.7h0M847.2 526.3h0M854.8 519.7h0M851.8 533.9h0M852.8 533.4h0M850.8 537.0h0M851.8 540.0h0M855.3 541.5h0M855.8 546.1h0M158.0 579.5h0M158.0 592.5h0M214.5 573.6h0M694.6 614.8h0M876.8 533.0h0M879.0 534.0h0M882.2 536.2h0M877.3 542.2h0M879.5 542.7h0M881.7 541.7h0M883.3 542.7h0M884.9 543.3h0M886.0 543.8h0M878.4 547.6h0M881.1 549.2h0M884.4 548.7h0M885.5 546.5h0M884.4 552.0h0M887.6 552.5h0M892.0 545.5h0M894.7 549.2h0M898.4 548.7h0M900.6 543.8h0M901.7 546.5h0M903.9 546.0h0M906.0 547.0h0M906.6 540.6h0M893.0 554.1h0M894.7 555.7h0M896.8 554.7h0M898.4 553.6h0M900.0 554.7h0M902.8 554.7h0M903.3 555.2h0M888.7 558.4h0M890.3 559.5h0M892.5 561.2h0M894.7 560.1h0M891.4 557.4h0M904.4 562.2h0M905.5 567.3h0M888.4 569.3h0M890.5 575.2h0" stroke="#000" stroke-width="3.2" stroke-linecap="round" fill="none"/><path d="M142.1 469.6l2.6 3.7h-5.2zM142.6 476.5l2.6 3.7h-5.2zM142.9 472.7l2.6 3.7h-5.2zM143.4 468.5l2.6 3.7h-5.2zM143.8 477.1l2.6 3.7h-5.2zM144.2 476.5l2.6 3.7h-5.2zM144.5 478.0l2.6 3.7h-5.2zM144.8 471.8l2.6 3.7h-5.2zM145.3 469.5l2.6 3.7h-5.2zM145.8 468.7l2.6 3.7h-5.2zM145.9 469.2l2.6 3.7h-5.2zM146.4 472.0l2.6 3.7h-5.2zM146.8 463.7l2.6 3.7h-5.2zM147.4 467.4l2.6 3.7h-5.2zM147.7 472.9l2.6 3.7h-5.2zM147.9 470.4l2.6 3.7h-5.2zM148.4 473.3l2.6 3.7h-5.2zM148.8 472.2l2.6 3.7h-5.2zM148.9 474.5l2.6 3.7h-5.2zM149.4 474.9l2.6 3.7h-5.2zM149.7 476.7l2.6 3.7h-5.2zM150.1 467.9l2.6 3.7h-5.2zM150.6 472.2l2.6 3.7h-5.2zM150.9 471.9l2.6 3.7h-5.2zM151.4 474.5l2.6 3.7h-5.2zM151.7 467.1l2.6 3.7h-5.2zM152.1 474.2l2.6 3.7h-5.2zM152.7 466.0l2.6 3.7h-5.2zM152.8 471.2l2.6 3.7h-5.2zM153.5 470.2l2.6 3.7h-5.2zM153.6 470.6l2.6 3.7h-5.2zM154.1 474.7l2.6 3.7h-5.2zM154.6 468.8l2.6 3.7h-5.2zM154.8 468.8l2.6 3.7h-5.2zM155.3 471.5l2.6 3.7h-5.2zM155.7 472.4l2.6 3.7h-5.2zM156.2 470.6l2.6 3.7h-5.2zM156.6 462.6l2.6 3.7h-5.2zM156.9 475.0l2.6 3.7h-5.2zM157.2 469.8l2.6 3.7h-5.2zM157.7 468.9l2.6 3.7h-5.2zM158.0 473.1l2.6 3.7h-5.2zM158.2 470.0l2.6 3.7h-5.2zM158.8 468.2l2.6 3.7h-5.2zM159.2 474.2l2.6 3.7h-5.2zM159.4 474.4l2.6 3.7h-5.2zM159.7 467.6l2.6 3.7h-5.2zM160.4 473.6l2.6 3.7h-5.2zM160.6 470.6l2.6 3.7h-5.2zM161.0 468.2l2.6 3.7h-5.2zM161.4 475.8l2.6 3.7h-5.2zM161.8 469.2l2.6 3.7h-5.2zM162.4 473.1l2.6 3.7h-5.2zM162.7 474.1l2.6 3.7h-5.2zM162.9 467.7l2.6 3.7h-5.2zM163.3 465.4l2.6 3.7h-5.2zM163.7 469.9l2.6 3.7h-5.2zM164.0 471.2l2.6 3.7h-5.2zM164.7 466.0l2.6 3.7h-5.2zM164.9 467.8l2.6 3.7h-5.2zM165.2 467.1l2.6 3.7h-5.2zM165.7 468.1l2.6 3.7h-5.2zM166.2 470.3l2.6 3.7h-5.2zM166.5 471.0l2.6 3.7h-5.2zM166.7 467.8l2.6 3.7h-5.2zM167.1 468.4l2.6 3.7h-5.2zM167.4 472.4l2.6 3.7h-5.2zM167.8 469.0l2.6 3.7h-5.2zM168.3 475.4l2.6 3.7h-5.2zM168.6 468.7l2.6 3.7h-5.2zM169.3 473.3l2.6 3.7h-5.2zM169.6 468.5l2.6 3.7h-5.2zM170.0 474.5l2.6 3.7h-5.2zM170.2 469.7l2.6 3.7h-5.2zM170.6 473.5l2.6 3.7h-5.2zM171.0 474.1l2.6 3.7h-5.2zM171.3 471.0l2.6 3.7h-5.2zM171.7 473.1l2.6 3.7h-5.2zM172.2 472.0l2.6 3.7h-5.2zM172.5 468.3l2.6 3.7h-5.2zM173.1 479.1l2.6 3.7h-5.2zM173.5 476.4l2.6 3.7h-5.2zM173.8 478.1l2.6 3.7h-5.2zM174.2 473.2l2.6 3.7h-5.2zM174.3 467.7l2.6 3.7h-5.2zM174.8 471.2l2.6 3.7h-5.2zM175.3 470.4l2.6 3.7h-5.2zM175.7 474.0l2.6 3.7h-5.2zM176.1 470.2l2.6 3.7h-5.2zM176.3 471.8l2.6 3.7h-5.2zM176.8 476.3l2.6 3.7h-5.2zM177.3 473.8l2.6 3.7h-5.2zM177.6 472.0l2.6 3.7h-5.2zM178.1 478.1l2.6 3.7h-5.2zM178.5 478.1l2.6 3.7h-5.2zM178.6 477.0l2.6 3.7h-5.2zM179.3 480.0l2.6 3.7h-5.2zM179.4 475.1l2.6 3.7h-5.2zM179.8 478.1l2.6 3.7h-5.2zM180.4 477.5l2.6 3.7h-5.2zM180.5 476.3l2.6 3.7h-5.2zM180.9 472.3l2.6 3.7h-5.2zM181.3 473.5l2.6 3.7h-5.2zM181.9 479.3l2.6 3.7h-5.2zM182.1 475.4l2.6 3.7h-5.2zM182.4 475.3l2.6 3.7h-5.2zM182.8 474.4l2.6 3.7h-5.2zM183.2 472.6l2.6 3.7h-5.2zM183.6 473.4l2.6 3.7h-5.2zM184.2 477.1l2.6 3.7h-5.2zM184.4 481.3l2.6 3.7h-5.2zM184.8 481.9l2.6 3.7h-5.2zM185.1 470.7l2.6 3.7h-5.2zM185.7 479.7l2.6 3.7h-5.2zM186.1 472.8l2.6 3.7h-5.2zM186.4 477.1l2.6 3.7h-5.2zM186.7 478.7l2.6 3.7h-5.2zM187.3 479.1l2.6 3.7h-5.2zM187.7 478.8l2.6 3.7h-5.2zM187.9 476.4l2.6 3.7h-5.2zM188.2 480.4l2.6 3.7h-5.2zM188.9 480.3l2.6 3.7h-5.2zM189.3 478.6l2.6 3.7h-5.2zM189.5 477.6l2.6 3.7h-5.2zM189.7 481.8l2.6 3.7h-5.2zM190.2 482.7l2.6 3.7h-5.2zM190.5 479.5l2.6 3.7h-5.2zM191.0 485.2l2.6 3.7h-5.2zM191.4 481.0l2.6 3.7h-5.2zM191.7 475.6l2.6 3.7h-5.2zM192.0 476.1l2.6 3.7h-5.2zM192.6 484.1l2.6 3.7h-5.2zM192.9 483.2l2.6 3.7h-5.2zM193.4 479.0l2.6 3.7h-5.2zM193.7 481.9l2.6 3.7h-5.2zM194.1 481.8l2.6 3.7h-5.2zM194.7 479.8l2.6 3.7h-5.2zM194.7 477.5l2.6 3.7h-5.2zM195.2 483.1l2.6 3.7h-5.2zM195.8 482.0l2.6 3.7h-5.2zM196.1 480.7l2.6 3.7h-5.2zM196.3 478.3l2.6 3.7h-5.2zM196.8 481.9l2.6 3.7h-5.2zM200.2 483.1l2.6 3.7h-5.2zM200.7 476.5l2.6 3.7h-5.2zM201.0 488.0l2.6 3.7h-5.2zM201.4 485.0l2.6 3.7h-5.2zM201.8 485.5l2.6 3.7h-5.2zM202.2 476.7l2.6 3.7h-5.2zM202.5 479.1l2.6 3.7h-5.2zM203.0 479.6l2.6 3.7h-5.2zM203.3 482.0l2.6 3.7h-5.2zM203.8 486.7l2.6 3.7h-5.2zM203.9 482.2l2.6 3.7h-5.2zM204.5 483.2l2.6 3.7h-5.2zM204.8 482.3l2.6 3.7h-5.2zM205.3 474.3l2.6 3.7h-5.2zM205.5 475.1l2.6 3.7h-5.2zM206.1 483.8l2.6 3.7h-5.2zM206.5 481.3l2.6 3.7h-5.2zM206.6 482.8l2.6 3.7h-5.2zM207.2 483.5l2.6 3.7h-5.2zM207.7 487.1l2.6 3.7h-5.2zM207.8 481.8l2.6 3.7h-5.2zM208.2 477.8l2.6 3.7h-5.2zM208.7 487.1l2.6 3.7h-5.2zM208.9 483.1l2.6 3.7h-5.2zM209.6 486.5l2.6 3.7h-5.2zM209.8 487.3l2.6 3.7h-5.2zM210.0 480.4l2.6 3.7h-5.2zM210.5 485.4l2.6 3.7h-5.2zM211.0 486.4l2.6 3.7h-5.2zM211.4 486.7l2.6 3.7h-5.2zM211.9 487.8l2.6 3.7h-5.2zM212.3 479.7l2.6 3.7h-5.2zM212.7 478.4l2.6 3.7h-5.2zM213.0 485.4l2.6 3.7h-5.2zM213.4 481.7l2.6 3.7h-5.2zM213.8 481.7l2.6 3.7h-5.2zM214.1 487.5l2.6 3.7h-5.2zM214.5 482.5l2.6 3.7h-5.2zM214.8 487.8l2.6 3.7h-5.2zM215.4 486.5l2.6 3.7h-5.2zM215.7 487.3l2.6 3.7h-5.2zM216.1 481.6l2.6 3.7h-5.2zM216.3 484.8l2.6 3.7h-5.2zM216.9 481.9l2.6 3.7h-5.2zM217.1 480.9l2.6 3.7h-5.2zM217.4 482.0l2.6 3.7h-5.2zM218.0 483.4l2.6 3.7h-5.2zM218.4 484.4l2.6 3.7h-5.2zM218.7 484.4l2.6 3.7h-5.2zM219.0 487.5l2.6 3.7h-5.2zM219.6 487.5l2.6 3.7h-5.2zM219.7 484.3l2.6 3.7h-5.2zM220.1 483.7l2.6 3.7h-5.2zM220.5 488.9l2.6 3.7h-5.2zM221.0 484.9l2.6 3.7h-5.2zM221.5 485.2l2.6 3.7h-5.2zM221.8 482.9l2.6 3.7h-5.2zM222.1 485.8l2.6 3.7h-5.2zM222.6 485.2l2.6 3.7h-5.2zM223.1 484.7l2.6 3.7h-5.2zM223.4 484.1l2.6 3.7h-5.2zM223.5 487.6l2.6 3.7h-5.2zM224.2 484.0l2.6 3.7h-5.2zM224.5 485.1l2.6 3.7h-5.2zM224.8 490.6l2.6 3.7h-5.2zM225.4 489.2l2.6 3.7h-5.2zM225.5 487.2l2.6 3.7h-5.2zM226.1 489.3l2.6 3.7h-5.2zM226.2 489.4l2.6 3.7h-5.2zM226.7 481.7l2.6 3.7h-5.2zM227.2 484.6l2.6 3.7h-5.2zM227.4 488.2l2.6 3.7h-5.2zM227.8 481.7l2.6 3.7h-5.2zM228.3 485.8l2.6 3.7h-5.2zM228.8 486.8l2.6 3.7h-5.2zM229.0 481.6l2.6 3.7h-5.2zM229.5 484.6l2.6 3.7h-5.2zM230.0 483.8l2.6 3.7h-5.2zM230.2 488.5l2.6 3.7h-5.2zM230.7 484.3l2.6 3.7h-5.2zM230.9 484.9l2.6 3.7h-5.2zM231.4 485.7l2.6 3.7h-5.2zM231.7 482.1l2.6 3.7h-5.2zM232.1 487.9l2.6 3.7h-5.2zM232.4 484.3l2.6 3.7h-5.2zM232.9 481.0l2.6 3.7h-5.2zM233.1 486.2l2.6 3.7h-5.2zM233.7 488.9l2.6 3.7h-5.2zM234.0 485.0l2.6 3.7h-5.2zM234.5 480.9l2.6 3.7h-5.2zM234.8 486.4l2.6 3.7h-5.2zM235.3 484.0l2.6 3.7h-5.2zM235.5 481.9l2.6 3.7h-5.2zM236.1 486.1l2.6 3.7h-5.2zM236.3 485.7l2.6 3.7h-5.2zM236.8 484.8l2.6 3.7h-5.2zM237.0 486.7l2.6 3.7h-5.2zM237.6 481.0l2.6 3.7h-5.2zM237.9 487.0l2.6 3.7h-5.2zM238.1 487.1l2.6 3.7h-5.2zM238.8 482.5l2.6 3.7h-5.2zM239.0 482.5l2.6 3.7h-5.2zM239.6 486.1l2.6 3.7h-5.2zM239.9 490.8l2.6 3.7h-5.2zM240.2 477.2l2.6 3.7h-5.2zM240.8 484.4l2.6 3.7h-5.2zM241.0 482.6l2.6 3.7h-5.2zM241.3 484.5l2.6 3.7h-5.2zM241.9 480.4l2.6 3.7h-5.2zM242.3 483.9l2.6 3.7h-5.2zM242.4 485.5l2.6 3.7h-5.2zM243.0 483.7l2.6 3.7h-5.2zM243.4 481.8l2.6 3.7h-5.2zM243.7 486.0l2.6 3.7h-5.2zM244.0 483.0l2.6 3.7h-5.2zM244.3 486.1l2.6 3.7h-5.2zM244.9 486.1l2.6 3.7h-5.2zM245.1 481.5l2.6 3.7h-5.2zM245.5 484.4l2.6 3.7h-5.2zM245.9 490.5l2.6 3.7h-5.2zM246.3 485.9l2.6 3.7h-5.2zM246.8 488.0l2.6 3.7h-5.2zM247.4 483.1l2.6 3.7h-5.2zM247.5 483.9l2.6 3.7h-5.2zM248.1 487.2l2.6 3.7h-5.2zM248.3 487.7l2.6 3.7h-5.2zM248.6 481.4l2.6 3.7h-5.2zM249.1 482.0l2.6 3.7h-5.2zM249.4 484.1l2.6 3.7h-5.2zM249.8 486.8l2.6 3.7h-5.2zM250.3 488.0l2.6 3.7h-5.2zM250.8 484.4l2.6 3.7h-5.2zM251.0 487.7l2.6 3.7h-5.2zM251.5 488.1l2.6 3.7h-5.2zM251.9 486.3l2.6 3.7h-5.2zM252.1 487.4l2.6 3.7h-5.2zM252.5 486.1l2.6 3.7h-5.2zM252.8 484.2l2.6 3.7h-5.2zM253.5 486.5l2.6 3.7h-5.2zM253.5 481.7l2.6 3.7h-5.2zM254.0 482.2l2.6 3.7h-5.2zM254.6 485.8l2.6 3.7h-5.2zM255.0 482.6l2.6 3.7h-5.2zM255.4 488.4l2.6 3.7h-5.2zM255.6 488.6l2.6 3.7h-5.2zM256.0 490.4l2.6 3.7h-5.2zM256.3 488.5l2.6 3.7h-5.2zM256.7 488.8l2.6 3.7h-5.2zM260.3 487.0l2.6 3.7h-5.2zM260.8 493.9l2.6 3.7h-5.2zM261.0 492.9l2.6 3.7h-5.2zM261.3 486.5l2.6 3.7h-5.2zM261.9 494.1l2.6 3.7h-5.2zM262.1 487.0l2.6 3.7h-5.2zM262.5 491.0l2.6 3.7h-5.2zM262.7 493.1l2.6 3.7h-5.2zM263.2 497.4l2.6 3.7h-5.2zM263.8 493.2l2.6 3.7h-5.2zM264.1 486.3l2.6 3.7h-5.2zM264.6 492.1l2.6 3.7h-5.2zM264.9 486.5l2.6 3.7h-5.2zM265.3 486.6l2.6 3.7h-5.2zM265.4 494.3l2.6 3.7h-5.2zM265.8 495.2l2.6 3.7h-5.2zM266.4 487.6l2.6 3.7h-5.2zM266.7 482.6l2.6 3.7h-5.2zM267.1 496.3l2.6 3.7h-5.2zM267.3 496.0l2.6 3.7h-5.2zM268.0 493.3l2.6 3.7h-5.2zM268.3 487.8l2.6 3.7h-5.2zM268.6 484.8l2.6 3.7h-5.2zM269.2 489.0l2.6 3.7h-5.2zM269.3 492.8l2.6 3.7h-5.2zM269.8 491.0l2.6 3.7h-5.2zM270.2 486.3l2.6 3.7h-5.2zM270.4 489.5l2.6 3.7h-5.2zM270.8 486.8l2.6 3.7h-5.2zM271.5 495.2l2.6 3.7h-5.2zM271.8 494.1l2.6 3.7h-5.2zM272.0 488.5l2.6 3.7h-5.2zM272.5 494.3l2.6 3.7h-5.2zM272.7 494.8l2.6 3.7h-5.2zM273.4 485.0l2.6 3.7h-5.2zM273.5 493.8l2.6 3.7h-5.2zM274.1 494.4l2.6 3.7h-5.2zM274.4 495.8l2.6 3.7h-5.2zM274.8 492.5l2.6 3.7h-5.2zM275.2 492.3l2.6 3.7h-5.2zM275.4 490.8l2.6 3.7h-5.2zM275.9 490.3l2.6 3.7h-5.2zM276.3 490.4l2.6 3.7h-5.2zM276.9 486.8l2.6 3.7h-5.2zM277.2 491.2l2.6 3.7h-5.2zM277.5 489.1l2.6 3.7h-5.2zM277.7 498.4l2.6 3.7h-5.2zM278.2 490.0l2.6 3.7h-5.2zM278.5 496.9l2.6 3.7h-5.2zM278.9 493.7l2.6 3.7h-5.2zM279.5 490.7l2.6 3.7h-5.2zM279.7 495.4l2.6 3.7h-5.2zM280.3 492.7l2.6 3.7h-5.2zM280.7 491.4l2.6 3.7h-5.2zM280.8 494.2l2.6 3.7h-5.2zM281.2 494.3l2.6 3.7h-5.2zM281.7 498.7l2.6 3.7h-5.2zM282.1 492.8l2.6 3.7h-5.2zM282.4 496.2l2.6 3.7h-5.2zM282.9 489.2l2.6 3.7h-5.2zM283.2 490.2l2.6 3.7h-5.2zM283.6 486.8l2.6 3.7h-5.2zM284.1 496.4l2.6 3.7h-5.2zM284.6 493.0l2.6 3.7h-5.2zM284.6 493.2l2.6 3.7h-5.2zM285.2 487.3l2.6 3.7h-5.2zM285.4 488.6l2.6 3.7h-5.2zM285.9 495.7l2.6 3.7h-5.2zM286.3 492.5l2.6 3.7h-5.2zM286.6 488.1l2.6 3.7h-5.2zM287.0 495.4l2.6 3.7h-5.2zM287.3 487.7l2.6 3.7h-5.2zM287.7 490.1l2.6 3.7h-5.2zM288.3 490.8l2.6 3.7h-5.2zM288.6 494.9l2.6 3.7h-5.2zM289.0 486.7l2.6 3.7h-5.2zM289.6 492.4l2.6 3.7h-5.2zM289.7 487.0l2.6 3.7h-5.2zM290.3 492.3l2.6 3.7h-5.2zM290.5 487.5l2.6 3.7h-5.2zM290.8 492.0l2.6 3.7h-5.2zM291.3 492.1l2.6 3.7h-5.2zM291.7 487.7l2.6 3.7h-5.2zM292.0 490.5l2.6 3.7h-5.2zM292.4 487.8l2.6 3.7h-5.2zM292.8 492.4l2.6 3.7h-5.2zM293.3 493.1l2.6 3.7h-5.2zM293.7 485.1l2.6 3.7h-5.2zM293.9 489.6l2.6 3.7h-5.2zM294.5 488.5l2.6 3.7h-5.2zM294.7 492.8l2.6 3.7h-5.2zM295.1 493.5l2.6 3.7h-5.2zM295.4 482.4l2.6 3.7h-5.2zM296.0 492.3l2.6 3.7h-5.2zM296.2 485.8l2.6 3.7h-5.2zM296.8 490.4l2.6 3.7h-5.2zM297.1 486.3l2.6 3.7h-5.2zM297.3 480.6l2.6 3.7h-5.2zM297.9 485.3l2.6 3.7h-5.2zM298.2 483.6l2.6 3.7h-5.2zM298.5 489.4l2.6 3.7h-5.2zM299.0 491.2l2.6 3.7h-5.2zM299.2 485.4l2.6 3.7h-5.2zM299.8 488.1l2.6 3.7h-5.2zM300.2 486.4l2.6 3.7h-5.2zM300.3 479.2l2.6 3.7h-5.2zM300.8 488.2l2.6 3.7h-5.2zM301.4 485.2l2.6 3.7h-5.2zM301.8 483.4l2.6 3.7h-5.2zM302.1 486.1l2.6 3.7h-5.2zM302.3 485.2l2.6 3.7h-5.2zM302.7 485.8l2.6 3.7h-5.2zM303.1 487.1l2.6 3.7h-5.2zM303.6 489.3l2.6 3.7h-5.2zM303.8 490.5l2.6 3.7h-5.2zM304.5 490.0l2.6 3.7h-5.2zM304.8 486.9l2.6 3.7h-5.2zM305.0 482.3l2.6 3.7h-5.2zM305.7 485.0l2.6 3.7h-5.2zM305.9 487.8l2.6 3.7h-5.2zM306.4 489.4l2.6 3.7h-5.2zM306.6 488.2l2.6 3.7h-5.2zM307.1 484.0l2.6 3.7h-5.2zM307.3 484.3l2.6 3.7h-5.2zM307.9 483.5l2.6 3.7h-5.2zM308.2 489.0l2.6 3.7h-5.2zM308.5 484.2l2.6 3.7h-5.2zM309.1 485.5l2.6 3.7h-5.2zM309.3 488.8l2.6 3.7h-5.2zM309.9 480.6l2.6 3.7h-5.2zM310.0 476.8l2.6 3.7h-5.2zM310.6 485.1l2.6 3.7h-5.2zM310.9 485.1l2.6 3.7h-5.2zM311.1 477.6l2.6 3.7h-5.2zM311.5 485.7l2.6 3.7h-5.2zM312.2 488.6l2.6 3.7h-5.2zM312.3 481.4l2.6 3.7h-5.2zM312.9 484.2l2.6 3.7h-5.2zM313.3 484.1l2.6 3.7h-5.2zM313.7 482.6l2.6 3.7h-5.2zM314.0 488.5l2.6 3.7h-5.2zM314.5 481.4l2.6 3.7h-5.2zM314.8 486.6l2.6 3.7h-5.2zM315.1 485.8l2.6 3.7h-5.2zM315.5 486.5l2.6 3.7h-5.2zM315.9 474.7l2.6 3.7h-5.2zM316.4 482.8l2.6 3.7h-5.2zM316.8 481.1l2.6 3.7h-5.2zM317.1 480.2l2.6 3.7h-5.2zM317.6 477.6l2.6 3.7h-5.2zM317.7 483.4l2.6 3.7h-5.2zM321.1 476.5l2.6 3.7h-5.2zM321.4 481.8l2.6 3.7h-5.2zM322.0 475.3l2.6 3.7h-5.2zM322.4 482.1l2.6 3.7h-5.2zM322.9 480.7l2.6 3.7h-5.2zM323.0 475.9l2.6 3.7h-5.2zM323.4 482.4l2.6 3.7h-5.2zM324.0 473.6l2.6 3.7h-5.2zM324.2 475.4l2.6 3.7h-5.2zM324.5 475.8l2.6 3.7h-5.2zM325.1 478.9l2.6 3.7h-5.2zM325.3 479.8l2.6 3.7h-5.2zM325.9 477.7l2.6 3.7h-5.2zM326.1 477.8l2.6 3.7h-5.2zM326.6 481.8l2.6 3.7h-5.2zM327.1 482.7l2.6 3.7h-5.2zM327.3 476.1l2.6 3.7h-5.2zM327.8 472.6l2.6 3.7h-5.2zM327.9 477.0l2.6 3.7h-5.2zM328.5 482.1l2.6 3.7h-5.2zM328.8 475.9l2.6 3.7h-5.2zM329.2 483.4l2.6 3.7h-5.2zM329.7 472.2l2.6 3.7h-5.2zM330.1 483.8l2.6 3.7h-5.2zM330.6 477.8l2.6 3.7h-5.2zM331.0 483.7l2.6 3.7h-5.2zM331.1 483.6l2.6 3.7h-5.2zM331.5 477.9l2.6 3.7h-5.2zM332.0 485.6l2.6 3.7h-5.2zM332.5 482.7l2.6 3.7h-5.2zM332.6 483.9l2.6 3.7h-5.2zM333.0 480.4l2.6 3.7h-5.2zM333.4 481.2l2.6 3.7h-5.2zM333.7 472.9l2.6 3.7h-5.2zM334.4 476.3l2.6 3.7h-5.2zM334.5 483.9l2.6 3.7h-5.2zM335.0 484.7l2.6 3.7h-5.2zM335.6 477.9l2.6 3.7h-5.2zM335.8 483.2l2.6 3.7h-5.2zM336.3 478.5l2.6 3.7h-5.2zM336.6 475.4l2.6 3.7h-5.2zM337.1 480.7l2.6 3.7h-5.2zM337.4 484.6l2.6 3.7h-5.2zM337.7 479.6l2.6 3.7h-5.2zM338.2 475.7l2.6 3.7h-5.2zM338.4 477.0l2.6 3.7h-5.2zM338.8 485.9l2.6 3.7h-5.2zM339.4 475.9l2.6 3.7h-5.2zM339.8 479.5l2.6 3.7h-5.2zM339.9 478.3l2.6 3.7h-5.2zM340.5 476.5l2.6 3.7h-5.2zM340.7 477.2l2.6 3.7h-5.2zM341.1 485.8l2.6 3.7h-5.2zM341.5 480.9l2.6 3.7h-5.2zM341.8 483.1l2.6 3.7h-5.2zM342.3 478.2l2.6 3.7h-5.2zM342.6 480.9l2.6 3.7h-5.2zM343.3 483.8l2.6 3.7h-5.2zM343.6 477.9l2.6 3.7h-5.2zM343.9 481.3l2.6 3.7h-5.2zM344.3 482.7l2.6 3.7h-5.2zM344.6 481.3l2.6 3.7h-5.2zM345.1 489.4l2.6 3.7h-5.2zM345.5 479.2l2.6 3.7h-5.2zM345.9 479.5l2.6 3.7h-5.2zM346.3 480.7l2.6 3.7h-5.2zM346.8 483.5l2.6 3.7h-5.2zM347.1 480.7l2.6 3.7h-5.2zM347.5 480.4l2.6 3.7h-5.2zM347.7 483.5l2.6 3.7h-5.2zM348.3 477.7l2.6 3.7h-5.2zM348.4 481.7l2.6 3.7h-5.2zM348.7 483.6l2.6 3.7h-5.2zM349.2 481.7l2.6 3.7h-5.2zM349.8 483.7l2.6 3.7h-5.2zM350.1 485.2l2.6 3.7h-5.2zM350.3 481.0l2.6 3.7h-5.2zM351.0 478.5l2.6 3.7h-5.2zM351.1 485.7l2.6 3.7h-5.2zM351.4 481.9l2.6 3.7h-5.2zM352.0 482.4l2.6 3.7h-5.2zM352.6 490.2l2.6 3.7h-5.2zM352.8 479.9l2.6 3.7h-5.2zM353.0 486.6l2.6 3.7h-5.2zM353.6 481.1l2.6 3.7h-5.2zM354.1 479.0l2.6 3.7h-5.2zM354.2 479.5l2.6 3.7h-5.2zM354.9 489.2l2.6 3.7h-5.2zM354.9 480.0l2.6 3.7h-5.2zM355.5 488.9l2.6 3.7h-5.2zM355.9 479.2l2.6 3.7h-5.2zM356.1 489.5l2.6 3.7h-5.2zM356.6 486.9l2.6 3.7h-5.2zM356.8 479.1l2.6 3.7h-5.2zM357.6 486.2l2.6 3.7h-5.2zM357.9 488.2l2.6 3.7h-5.2zM358.2 491.8l2.6 3.7h-5.2zM358.4 481.3l2.6 3.7h-5.2zM358.8 488.3l2.6 3.7h-5.2zM359.1 480.4l2.6 3.7h-5.2zM359.9 485.8l2.6 3.7h-5.2zM360.1 482.4l2.6 3.7h-5.2zM360.4 485.9l2.6 3.7h-5.2zM361.0 487.3l2.6 3.7h-5.2zM361.3 483.2l2.6 3.7h-5.2zM361.6 480.3l2.6 3.7h-5.2zM361.9 479.9l2.6 3.7h-5.2zM362.5 485.3l2.6 3.7h-5.2zM362.6 487.3l2.6 3.7h-5.2zM363.2 484.8l2.6 3.7h-5.2zM363.5 480.9l2.6 3.7h-5.2zM364.1 488.4l2.6 3.7h-5.2zM364.2 484.4l2.6 3.7h-5.2zM364.5 484.7l2.6 3.7h-5.2zM365.1 486.3l2.6 3.7h-5.2zM365.5 487.2l2.6 3.7h-5.2zM365.8 489.1l2.6 3.7h-5.2zM366.3 480.7l2.6 3.7h-5.2zM366.5 480.9l2.6 3.7h-5.2zM366.8 479.8l2.6 3.7h-5.2zM367.3 481.7l2.6 3.7h-5.2zM367.6 482.1l2.6 3.7h-5.2zM368.1 483.3l2.6 3.7h-5.2zM368.5 488.0l2.6 3.7h-5.2zM369.0 479.9l2.6 3.7h-5.2zM369.2 484.6l2.6 3.7h-5.2zM369.6 491.9l2.6 3.7h-5.2zM369.9 485.4l2.6 3.7h-5.2zM370.3 486.0l2.6 3.7h-5.2zM370.9 486.1l2.6 3.7h-5.2zM371.2 480.1l2.6 3.7h-5.2zM371.7 492.4l2.6 3.7h-5.2zM371.8 481.7l2.6 3.7h-5.2zM372.3 488.3l2.6 3.7h-5.2zM372.9 482.9l2.6 3.7h-5.2zM373.3 484.7l2.6 3.7h-5.2zM373.6 482.7l2.6 3.7h-5.2zM373.8 480.8l2.6 3.7h-5.2zM374.2 484.6l2.6 3.7h-5.2zM374.7 486.0l2.6 3.7h-5.2zM375.2 482.9l2.6 3.7h-5.2zM375.3 479.6l2.6 3.7h-5.2zM375.7 485.4l2.6 3.7h-5.2zM376.3 479.6l2.6 3.7h-5.2zM376.6 477.9l2.6 3.7h-5.2zM376.8 482.1l2.6 3.7h-5.2zM377.2 479.2l2.6 3.7h-5.2zM377.8 479.5l2.6 3.7h-5.2zM378.3 479.7l2.6 3.7h-5.2zM378.6 485.7l2.6 3.7h-5.2zM379.0 481.1l2.6 3.7h-5.2zM379.4 484.5l2.6 3.7h-5.2zM379.8 479.6l2.6 3.7h-5.2zM380.1 480.7l2.6 3.7h-5.2zM380.4 478.8l2.6 3.7h-5.2zM380.8 480.0l2.6 3.7h-5.2zM381.4 481.5l2.6 3.7h-5.2zM381.5 478.2l2.6 3.7h-5.2zM382.2 477.0l2.6 3.7h-5.2zM382.2 478.1l2.6 3.7h-5.2zM382.7 477.5l2.6 3.7h-5.2zM383.0 477.1l2.6 3.7h-5.2zM383.5 477.5l2.6 3.7h-5.2zM383.9 473.6l2.6 3.7h-5.2zM384.3 474.3l2.6 3.7h-5.2zM384.6 478.5l2.6 3.7h-5.2zM385.1 472.8l2.6 3.7h-5.2zM385.3 475.3l2.6 3.7h-5.2zM385.8 479.7l2.6 3.7h-5.2zM386.2 479.5l2.6 3.7h-5.2zM386.7 478.3l2.6 3.7h-5.2zM386.9 479.2l2.6 3.7h-5.2zM387.4 471.8l2.6 3.7h-5.2zM387.9 476.3l2.6 3.7h-5.2zM388.1 473.4l2.6 3.7h-5.2zM388.5 471.1l2.6 3.7h-5.2zM388.8 478.7l2.6 3.7h-5.2zM389.2 477.0l2.6 3.7h-5.2zM389.5 476.7l2.6 3.7h-5.2zM390.2 470.5l2.6 3.7h-5.2zM390.6 476.6l2.6 3.7h-5.2zM390.8 473.6l2.6 3.7h-5.2zM391.1 473.4l2.6 3.7h-5.2zM391.5 476.8l2.6 3.7h-5.2zM392.0 467.9l2.6 3.7h-5.2zM392.4 469.0l2.6 3.7h-5.2zM392.7 476.6l2.6 3.7h-5.2zM393.2 476.0l2.6 3.7h-5.2zM393.7 467.6l2.6 3.7h-5.2zM394.1 469.3l2.6 3.7h-5.2zM394.2 472.8l2.6 3.7h-5.2zM394.7 468.0l2.6 3.7h-5.2zM395.2 469.4l2.6 3.7h-5.2zM395.6 479.0l2.6 3.7h-5.2zM396.0 469.8l2.6 3.7h-5.2zM396.2 473.5l2.6 3.7h-5.2zM396.8 470.7l2.6 3.7h-5.2zM397.2 469.7l2.6 3.7h-5.2zM397.2 470.2l2.6 3.7h-5.2zM397.9 466.4l2.6 3.7h-5.2zM398.4 469.0l2.6 3.7h-5.2zM398.4 467.0l2.6 3.7h-5.2zM399.1 470.3l2.6 3.7h-5.2zM399.2 462.0l2.6 3.7h-5.2zM399.5 470.3l2.6 3.7h-5.2zM400.0 460.0l2.6 3.7h-5.2zM400.5 459.9l2.6 3.7h-5.2zM400.9 461.3l2.6 3.7h-5.2zM401.4 458.5l2.6 3.7h-5.2zM401.5 459.6l2.6 3.7h-5.2zM402.1 467.5l2.6 3.7h-5.2zM402.5 462.4l2.6 3.7h-5.2zM402.9 463.5l2.6 3.7h-5.2zM403.2 456.0l2.6 3.7h-5.2zM403.4 459.1l2.6 3.7h-5.2zM404.1 452.7l2.6 3.7h-5.2zM404.5 454.0l2.6 3.7h-5.2zM404.9 457.7l2.6 3.7h-5.2zM405.2 455.7l2.6 3.7h-5.2zM405.3 455.7l2.6 3.7h-5.2zM406.0 451.1l2.6 3.7h-5.2zM406.1 450.7l2.6 3.7h-5.2zM406.5 456.1l2.6 3.7h-5.2zM407.0 457.0l2.6 3.7h-5.2zM407.4 453.5l2.6 3.7h-5.2zM407.9 452.0l2.6 3.7h-5.2zM408.2 453.7l2.6 3.7h-5.2zM408.4 450.7l2.6 3.7h-5.2zM408.9 447.9l2.6 3.7h-5.2zM409.3 452.2l2.6 3.7h-5.2zM409.8 452.0l2.6 3.7h-5.2zM410.0 450.9l2.6 3.7h-5.2zM410.5 452.5l2.6 3.7h-5.2zM410.9 448.1l2.6 3.7h-5.2zM411.4 454.9l2.6 3.7h-5.2zM411.5 450.6l2.6 3.7h-5.2zM411.8 451.3l2.6 3.7h-5.2zM412.3 450.3l2.6 3.7h-5.2zM412.7 450.9l2.6 3.7h-5.2zM413.2 445.0l2.6 3.7h-5.2zM413.5 444.2l2.6 3.7h-5.2zM414.0 450.9l2.6 3.7h-5.2zM414.4 446.7l2.6 3.7h-5.2zM414.7 446.6l2.6 3.7h-5.2zM415.3 442.5l2.6 3.7h-5.2zM415.4 447.3l2.6 3.7h-5.2zM415.9 449.4l2.6 3.7h-5.2zM416.4 441.8l2.6 3.7h-5.2zM416.7 446.5l2.6 3.7h-5.2zM417.0 444.6l2.6 3.7h-5.2zM417.5 441.5l2.6 3.7h-5.2zM417.6 445.8l2.6 3.7h-5.2zM418.1 448.8l2.6 3.7h-5.2zM418.7 448.1l2.6 3.7h-5.2zM418.8 448.1l2.6 3.7h-5.2zM419.3 448.8l2.6 3.7h-5.2zM419.8 442.4l2.6 3.7h-5.2zM420.1 447.5l2.6 3.7h-5.2zM420.6 446.9l2.6 3.7h-5.2zM420.8 443.4l2.6 3.7h-5.2zM421.2 447.8l2.6 3.7h-5.2zM421.7 449.9l2.6 3.7h-5.2zM421.9 447.2l2.6 3.7h-5.2zM422.6 443.4l2.6 3.7h-5.2zM422.9 451.1l2.6 3.7h-5.2zM423.2 447.1l2.6 3.7h-5.2zM423.5 449.0l2.6 3.7h-5.2zM423.9 446.7l2.6 3.7h-5.2zM424.4 444.6l2.6 3.7h-5.2zM424.7 443.9l2.6 3.7h-5.2zM425.0 444.8l2.6 3.7h-5.2zM425.6 444.4l2.6 3.7h-5.2zM425.9 451.6l2.6 3.7h-5.2zM426.1 449.2l2.6 3.7h-5.2zM426.6 448.5l2.6 3.7h-5.2zM426.9 445.2l2.6 3.7h-5.2zM427.3 449.5l2.6 3.7h-5.2zM427.8 448.7l2.6 3.7h-5.2zM428.1 444.6l2.6 3.7h-5.2zM428.5 453.4l2.6 3.7h-5.2zM429.1 446.1l2.6 3.7h-5.2zM429.5 452.0l2.6 3.7h-5.2zM429.8 451.6l2.6 3.7h-5.2zM430.0 450.1l2.6 3.7h-5.2zM430.6 446.6l2.6 3.7h-5.2zM430.8 446.1l2.6 3.7h-5.2zM431.4 450.0l2.6 3.7h-5.2zM431.7 444.7l2.6 3.7h-5.2zM432.0 450.7l2.6 3.7h-5.2zM432.4 448.1l2.6 3.7h-5.2zM432.9 454.5l2.6 3.7h-5.2zM433.3 448.2l2.6 3.7h-5.2zM433.6 449.9l2.6 3.7h-5.2zM433.8 455.1l2.6 3.7h-5.2zM434.4 449.6l2.6 3.7h-5.2zM434.9 454.5l2.6 3.7h-5.2zM435.3 455.6l2.6 3.7h-5.2zM435.6 451.3l2.6 3.7h-5.2zM435.9 455.1l2.6 3.7h-5.2zM436.4 448.3l2.6 3.7h-5.2zM436.8 453.7l2.6 3.7h-5.2zM436.9 455.8l2.6 3.7h-5.2zM437.4 456.5l2.6 3.7h-5.2zM437.7 449.3l2.6 3.7h-5.2zM441.2 462.8l2.6 3.7h-5.2zM441.7 471.8l2.6 3.7h-5.2zM442.1 470.4l2.6 3.7h-5.2zM442.4 472.0l2.6 3.7h-5.2zM442.8 463.9l2.6 3.7h-5.2zM443.0 471.6l2.6 3.7h-5.2zM443.6 473.4l2.6 3.7h-5.2zM443.7 466.0l2.6 3.7h-5.2zM444.1 466.0l2.6 3.7h-5.2zM444.6 469.1l2.6 3.7h-5.2zM445.1 468.2l2.6 3.7h-5.2zM445.6 469.2l2.6 3.7h-5.2zM445.8 465.1l2.6 3.7h-5.2zM446.2 468.5l2.6 3.7h-5.2zM446.4 463.6l2.6 3.7h-5.2zM447.1 471.5l2.6 3.7h-5.2zM447.2 468.9l2.6 3.7h-5.2zM447.8 469.2l2.6 3.7h-5.2zM448.1 467.8l2.6 3.7h-5.2zM448.7 466.4l2.6 3.7h-5.2zM448.9 473.3l2.6 3.7h-5.2zM449.1 469.3l2.6 3.7h-5.2zM449.8 470.4l2.6 3.7h-5.2zM449.9 468.7l2.6 3.7h-5.2zM450.5 474.0l2.6 3.7h-5.2zM450.7 472.4l2.6 3.7h-5.2zM451.2 471.2l2.6 3.7h-5.2zM451.4 467.9l2.6 3.7h-5.2zM451.8 474.2l2.6 3.7h-5.2zM452.3 468.1l2.6 3.7h-5.2zM452.6 468.5l2.6 3.7h-5.2zM453.2 470.1l2.6 3.7h-5.2zM453.6 472.4l2.6 3.7h-5.2zM453.9 472.7l2.6 3.7h-5.2zM454.1 478.8l2.6 3.7h-5.2zM454.6 468.8l2.6 3.7h-5.2zM455.1 472.1l2.6 3.7h-5.2zM455.3 471.0l2.6 3.7h-5.2zM455.7 476.3l2.6 3.7h-5.2zM456.2 483.1l2.6 3.7h-5.2zM456.7 480.8l2.6 3.7h-5.2zM456.7 479.7l2.6 3.7h-5.2zM457.4 475.5l2.6 3.7h-5.2zM457.7 469.9l2.6 3.7h-5.2zM458.1 469.6l2.6 3.7h-5.2zM458.6 478.5l2.6 3.7h-5.2zM458.8 471.5l2.6 3.7h-5.2zM459.3 475.9l2.6 3.7h-5.2zM459.6 469.2l2.6 3.7h-5.2zM460.0 477.9l2.6 3.7h-5.2zM460.3 471.9l2.6 3.7h-5.2zM460.9 475.8l2.6 3.7h-5.2zM461.0 476.6l2.6 3.7h-5.2zM461.5 473.9l2.6 3.7h-5.2zM462.1 474.9l2.6 3.7h-5.2zM462.3 469.0l2.6 3.7h-5.2zM462.8 472.5l2.6 3.7h-5.2zM463.0 479.2l2.6 3.7h-5.2zM463.6 475.5l2.6 3.7h-5.2zM463.8 469.0l2.6 3.7h-5.2zM464.3 475.0l2.6 3.7h-5.2zM464.4 470.5l2.6 3.7h-5.2zM465.0 479.9l2.6 3.7h-5.2zM465.4 468.8l2.6 3.7h-5.2zM465.9 478.4l2.6 3.7h-5.2zM465.9 474.1l2.6 3.7h-5.2zM466.4 469.6l2.6 3.7h-5.2zM466.9 476.7l2.6 3.7h-5.2zM467.1 475.7l2.6 3.7h-5.2zM467.7 471.3l2.6 3.7h-5.2zM468.1 478.8l2.6 3.7h-5.2zM468.5 475.6l2.6 3.7h-5.2zM468.7 481.7l2.6 3.7h-5.2zM469.4 478.0l2.6 3.7h-5.2zM469.6 479.1l2.6 3.7h-5.2zM469.9 477.8l2.6 3.7h-5.2zM470.4 478.6l2.6 3.7h-5.2zM470.5 474.1l2.6 3.7h-5.2zM471.0 468.1l2.6 3.7h-5.2zM471.6 470.3l2.6 3.7h-5.2zM472.0 473.4l2.6 3.7h-5.2zM472.3 479.4l2.6 3.7h-5.2zM472.6 473.9l2.6 3.7h-5.2zM473.0 469.9l2.6 3.7h-5.2zM473.5 478.3l2.6 3.7h-5.2zM473.8 469.6l2.6 3.7h-5.2zM474.0 478.6l2.6 3.7h-5.2zM474.7 477.1l2.6 3.7h-5.2zM475.1 478.3l2.6 3.7h-5.2zM475.2 474.3l2.6 3.7h-5.2zM475.8 471.8l2.6 3.7h-5.2zM476.2 473.1l2.6 3.7h-5.2zM476.4 476.5l2.6 3.7h-5.2zM476.8 474.0l2.6 3.7h-5.2zM477.1 470.3l2.6 3.7h-5.2zM477.6 468.9l2.6 3.7h-5.2zM477.8 469.8l2.6 3.7h-5.2zM478.5 468.4l2.6 3.7h-5.2zM478.7 470.0l2.6 3.7h-5.2zM479.1 472.7l2.6 3.7h-5.2zM479.4 469.1l2.6 3.7h-5.2zM479.9 468.8l2.6 3.7h-5.2zM480.3 476.8l2.6 3.7h-5.2zM480.7 475.3l2.6 3.7h-5.2zM481.0 476.3l2.6 3.7h-5.2zM481.6 472.7l2.6 3.7h-5.2zM481.8 478.4l2.6 3.7h-5.2zM482.3 477.0l2.6 3.7h-5.2zM482.5 472.1l2.6 3.7h-5.2zM483.0 475.8l2.6 3.7h-5.2zM483.3 467.2l2.6 3.7h-5.2zM483.7 481.7l2.6 3.7h-5.2zM484.1 464.8l2.6 3.7h-5.2zM484.7 467.5l2.6 3.7h-5.2zM485.0 476.8l2.6 3.7h-5.2zM485.1 471.6l2.6 3.7h-5.2zM485.5 471.5l2.6 3.7h-5.2zM486.2 479.5l2.6 3.7h-5.2zM486.6 478.8l2.6 3.7h-5.2zM487.0 473.8l2.6 3.7h-5.2zM487.1 469.8l2.6 3.7h-5.2zM487.5 471.2l2.6 3.7h-5.2zM488.1 477.5l2.6 3.7h-5.2zM488.2 473.0l2.6 3.7h-5.2zM488.8 475.8l2.6 3.7h-5.2zM489.1 474.4l2.6 3.7h-5.2zM489.4 476.5l2.6 3.7h-5.2zM489.7 473.9l2.6 3.7h-5.2zM490.4 473.0l2.6 3.7h-5.2zM490.7 467.9l2.6 3.7h-5.2zM491.1 474.4l2.6 3.7h-5.2zM491.3 469.9l2.6 3.7h-5.2zM492.0 477.9l2.6 3.7h-5.2zM492.3 473.9l2.6 3.7h-5.2zM492.4 475.0l2.6 3.7h-5.2zM492.8 473.1l2.6 3.7h-5.2zM493.4 478.2l2.6 3.7h-5.2zM493.8 477.0l2.6 3.7h-5.2zM494.3 475.7l2.6 3.7h-5.2zM494.6 465.2l2.6 3.7h-5.2zM495.0 476.8l2.6 3.7h-5.2zM495.3 477.9l2.6 3.7h-5.2zM495.8 480.4l2.6 3.7h-5.2zM496.1 475.1l2.6 3.7h-5.2zM496.4 473.1l2.6 3.7h-5.2zM496.7 477.2l2.6 3.7h-5.2zM501.3 478.0l2.6 3.7h-5.2zM501.6 477.8l2.6 3.7h-5.2zM501.8 481.8l2.6 3.7h-5.2zM502.2 470.4l2.6 3.7h-5.2zM502.6 467.9l2.6 3.7h-5.2zM503.2 480.9l2.6 3.7h-5.2zM503.4 474.3l2.6 3.7h-5.2zM503.9 477.5l2.6 3.7h-5.2zM504.4 470.0l2.6 3.7h-5.2zM504.6 480.7l2.6 3.7h-5.2zM505.0 480.2l2.6 3.7h-5.2zM505.3 474.4l2.6 3.7h-5.2zM505.8 481.2l2.6 3.7h-5.2zM506.3 479.5l2.6 3.7h-5.2zM506.5 474.8l2.6 3.7h-5.2zM507.1 472.5l2.6 3.7h-5.2zM507.3 471.0l2.6 3.7h-5.2zM507.6 472.6l2.6 3.7h-5.2zM508.3 480.8l2.6 3.7h-5.2zM508.6 478.2l2.6 3.7h-5.2zM509.1 476.3l2.6 3.7h-5.2zM509.5 483.8l2.6 3.7h-5.2zM509.6 475.6l2.6 3.7h-5.2zM510.1 481.8l2.6 3.7h-5.2zM510.3 482.5l2.6 3.7h-5.2zM510.8 471.1l2.6 3.7h-5.2zM511.3 482.0l2.6 3.7h-5.2zM511.7 478.3l2.6 3.7h-5.2zM511.9 477.3l2.6 3.7h-5.2zM512.4 479.9l2.6 3.7h-5.2zM512.9 476.0l2.6 3.7h-5.2zM513.0 483.5l2.6 3.7h-5.2zM513.7 477.3l2.6 3.7h-5.2zM514.1 488.3l2.6 3.7h-5.2zM514.5 473.7l2.6 3.7h-5.2zM514.6 473.1l2.6 3.7h-5.2zM515.0 481.9l2.6 3.7h-5.2zM515.3 477.4l2.6 3.7h-5.2zM515.7 474.7l2.6 3.7h-5.2zM516.4 471.5l2.6 3.7h-5.2zM516.7 483.1l2.6 3.7h-5.2zM516.9 472.5l2.6 3.7h-5.2zM517.2 475.3l2.6 3.7h-5.2zM517.9 475.1l2.6 3.7h-5.2zM518.0 476.4l2.6 3.7h-5.2zM518.6 477.7l2.6 3.7h-5.2zM518.9 485.9l2.6 3.7h-5.2zM519.4 482.9l2.6 3.7h-5.2zM519.5 486.6l2.6 3.7h-5.2zM520.1 481.6l2.6 3.7h-5.2zM520.6 479.2l2.6 3.7h-5.2zM520.9 476.0l2.6 3.7h-5.2zM521.3 486.2l2.6 3.7h-5.2zM521.5 483.4l2.6 3.7h-5.2zM522.1 482.7l2.6 3.7h-5.2zM522.5 483.1l2.6 3.7h-5.2zM522.9 478.4l2.6 3.7h-5.2zM523.1 482.3l2.6 3.7h-5.2zM523.6 490.1l2.6 3.7h-5.2zM524.0 486.7l2.6 3.7h-5.2zM524.5 485.9l2.6 3.7h-5.2zM524.9 489.0l2.6 3.7h-5.2zM525.2 480.3l2.6 3.7h-5.2zM525.6 482.9l2.6 3.7h-5.2zM525.8 489.4l2.6 3.7h-5.2zM526.4 481.0l2.6 3.7h-5.2zM526.6 481.3l2.6 3.7h-5.2zM526.9 484.7l2.6 3.7h-5.2zM527.2 484.0l2.6 3.7h-5.2zM527.7 483.1l2.6 3.7h-5.2zM528.0 489.3l2.6 3.7h-5.2zM528.7 482.6l2.6 3.7h-5.2zM529.0 491.1l2.6 3.7h-5.2zM529.3 480.2l2.6 3.7h-5.2zM529.6 491.4l2.6 3.7h-5.2zM529.9 480.7l2.6 3.7h-5.2zM530.6 489.7l2.6 3.7h-5.2zM530.9 482.9l2.6 3.7h-5.2zM524.0 495.7l2.6 3.7h-5.2zM524.5 503.4l2.6 3.7h-5.2zM525.1 504.0l2.6 3.7h-5.2zM525.2 498.8l2.6 3.7h-5.2zM525.8 502.6l2.6 3.7h-5.2zM526.1 498.6l2.6 3.7h-5.2zM526.3 502.1l2.6 3.7h-5.2zM526.9 497.6l2.6 3.7h-5.2zM527.2 503.5l2.6 3.7h-5.2zM527.7 502.5l2.6 3.7h-5.2zM527.9 498.4l2.6 3.7h-5.2zM528.5 502.4l2.6 3.7h-5.2zM528.7 502.0l2.6 3.7h-5.2zM529.3 504.0l2.6 3.7h-5.2zM529.7 501.2l2.6 3.7h-5.2zM530.0 503.3l2.6 3.7h-5.2zM530.3 501.1l2.6 3.7h-5.2zM530.5 500.5l2.6 3.7h-5.2zM531.0 498.9l2.6 3.7h-5.2zM531.4 505.0l2.6 3.7h-5.2zM531.8 496.6l2.6 3.7h-5.2zM532.3 504.3l2.6 3.7h-5.2zM532.6 506.0l2.6 3.7h-5.2zM533.1 500.6l2.6 3.7h-5.2zM533.3 501.2l2.6 3.7h-5.2zM533.9 504.5l2.6 3.7h-5.2zM534.2 499.0l2.6 3.7h-5.2zM534.7 503.3l2.6 3.7h-5.2zM534.8 504.3l2.6 3.7h-5.2zM535.4 500.5l2.6 3.7h-5.2zM535.7 504.2l2.6 3.7h-5.2zM536.2 505.7l2.6 3.7h-5.2zM536.3 503.6l2.6 3.7h-5.2zM536.7 505.0l2.6 3.7h-5.2zM537.4 504.0l2.6 3.7h-5.2zM537.7 507.7l2.6 3.7h-5.2zM538.2 501.8l2.6 3.7h-5.2zM538.3 503.7l2.6 3.7h-5.2zM538.9 506.0l2.6 3.7h-5.2zM539.3 506.5l2.6 3.7h-5.2zM539.3 500.8l2.6 3.7h-5.2zM539.8 500.0l2.6 3.7h-5.2zM540.2 505.9l2.6 3.7h-5.2zM540.5 507.4l2.6 3.7h-5.2zM541.0 505.9l2.6 3.7h-5.2zM541.4 499.9l2.6 3.7h-5.2zM541.7 507.0l2.6 3.7h-5.2zM542.4 503.5l2.6 3.7h-5.2zM542.6 511.4l2.6 3.7h-5.2zM543.1 505.2l2.6 3.7h-5.2zM543.4 506.4l2.6 3.7h-5.2zM543.8 507.1l2.6 3.7h-5.2zM544.3 508.2l2.6 3.7h-5.2zM544.6 511.8l2.6 3.7h-5.2zM544.9 505.7l2.6 3.7h-5.2zM545.3 505.9l2.6 3.7h-5.2zM545.6 510.9l2.6 3.7h-5.2zM545.9 502.7l2.6 3.7h-5.2zM546.6 511.0l2.6 3.7h-5.2zM547.0 508.6l2.6 3.7h-5.2zM547.4 512.2l2.6 3.7h-5.2zM547.7 506.5l2.6 3.7h-5.2zM547.8 510.8l2.6 3.7h-5.2zM548.4 510.7l2.6 3.7h-5.2zM548.9 513.3l2.6 3.7h-5.2zM549.3 509.9l2.6 3.7h-5.2zM549.5 507.0l2.6 3.7h-5.2zM549.7 507.6l2.6 3.7h-5.2zM550.4 514.5l2.6 3.7h-5.2zM550.7 517.2l2.6 3.7h-5.2zM551.1 508.9l2.6 3.7h-5.2zM551.5 514.6l2.6 3.7h-5.2zM551.6 510.0l2.6 3.7h-5.2zM552.2 516.4l2.6 3.7h-5.2zM552.8 516.5l2.6 3.7h-5.2zM553.1 512.8l2.6 3.7h-5.2zM553.2 512.1l2.6 3.7h-5.2zM553.8 514.5l2.6 3.7h-5.2zM554.2 509.1l2.6 3.7h-5.2zM554.5 509.7l2.6 3.7h-5.2zM555.1 509.5l2.6 3.7h-5.2zM555.2 514.3l2.6 3.7h-5.2zM555.6 514.7l2.6 3.7h-5.2zM556.2 515.8l2.6 3.7h-5.2zM556.5 513.0l2.6 3.7h-5.2zM556.6 514.1l2.6 3.7h-5.2zM560.2 513.2l2.6 3.7h-5.2zM560.9 521.5l2.6 3.7h-5.2zM561.2 521.2l2.6 3.7h-5.2zM561.6 510.5l2.6 3.7h-5.2zM562.2 522.9l2.6 3.7h-5.2zM563.0 517.0l2.6 3.7h-5.2zM563.1 517.0l2.6 3.7h-5.2zM563.6 508.2l2.6 3.7h-5.2zM564.1 523.8l2.6 3.7h-5.2zM564.6 521.2l2.6 3.7h-5.2zM565.2 507.9l2.6 3.7h-5.2zM565.6 522.1l2.6 3.7h-5.2zM566.1 524.6l2.6 3.7h-5.2zM567.0 508.7l2.6 3.7h-5.2zM567.2 513.0l2.6 3.7h-5.2zM567.6 519.0l2.6 3.7h-5.2zM568.1 512.5l2.6 3.7h-5.2zM569.0 517.2l2.6 3.7h-5.2zM569.5 512.1l2.6 3.7h-5.2zM569.6 520.1l2.6 3.7h-5.2zM570.3 522.1l2.6 3.7h-5.2zM570.8 520.8l2.6 3.7h-5.2zM571.5 518.6l2.6 3.7h-5.2zM571.6 516.9l2.6 3.7h-5.2zM572.4 527.9l2.6 3.7h-5.2zM572.8 525.2l2.6 3.7h-5.2zM573.4 514.0l2.6 3.7h-5.2zM574.0 524.8l2.6 3.7h-5.2zM574.5 528.3l2.6 3.7h-5.2zM574.8 521.0l2.6 3.7h-5.2zM575.1 522.7l2.6 3.7h-5.2zM575.7 520.4l2.6 3.7h-5.2zM576.1 524.6l2.6 3.7h-5.2zM576.8 526.1l2.6 3.7h-5.2zM577.2 519.1l2.6 3.7h-5.2zM577.7 527.8l2.6 3.7h-5.2zM578.1 513.5l2.6 3.7h-5.2zM578.5 525.7l2.6 3.7h-5.2zM579.2 524.6l2.6 3.7h-5.2zM579.7 527.5l2.6 3.7h-5.2zM580.1 518.6l2.6 3.7h-5.2zM580.6 520.9l2.6 3.7h-5.2zM581.3 514.8l2.6 3.7h-5.2zM581.8 524.4l2.6 3.7h-5.2zM582.2 509.5l2.6 3.7h-5.2zM582.6 521.3l2.6 3.7h-5.2zM583.3 521.0l2.6 3.7h-5.2zM583.5 526.7l2.6 3.7h-5.2zM584.4 522.7l2.6 3.7h-5.2zM584.8 525.2l2.6 3.7h-5.2zM585.3 524.3l2.6 3.7h-5.2zM586.0 525.0l2.6 3.7h-5.2zM586.2 526.7l2.6 3.7h-5.2zM587.0 517.9l2.6 3.7h-5.2zM587.3 510.6l2.6 3.7h-5.2zM587.8 523.7l2.6 3.7h-5.2zM588.2 525.6l2.6 3.7h-5.2zM588.7 529.3l2.6 3.7h-5.2zM589.2 520.8l2.6 3.7h-5.2zM589.9 518.2l2.6 3.7h-5.2zM590.2 512.9l2.6 3.7h-5.2zM591.0 524.0l2.6 3.7h-5.2zM591.2 519.6l2.6 3.7h-5.2zM591.8 527.3l2.6 3.7h-5.2zM592.3 515.0l2.6 3.7h-5.2zM592.6 523.1l2.6 3.7h-5.2zM593.1 518.2l2.6 3.7h-5.2zM593.8 521.1l2.6 3.7h-5.2zM594.4 511.6l2.6 3.7h-5.2zM594.8 524.6l2.6 3.7h-5.2zM595.5 525.8l2.6 3.7h-5.2zM595.6 509.9l2.6 3.7h-5.2zM596.4 520.7l2.6 3.7h-5.2zM596.7 517.8l2.6 3.7h-5.2zM597.3 511.1l2.6 3.7h-5.2zM597.6 516.1l2.6 3.7h-5.2zM598.1 519.8l2.6 3.7h-5.2zM599.0 512.8l2.6 3.7h-5.2zM599.1 520.7l2.6 3.7h-5.2zM599.6 529.5l2.6 3.7h-5.2zM600.0 516.5l2.6 3.7h-5.2zM600.7 520.6l2.6 3.7h-5.2zM601.2 531.3l2.6 3.7h-5.2zM602.0 523.5l2.6 3.7h-5.2zM602.1 529.5l2.6 3.7h-5.2zM602.9 517.3l2.6 3.7h-5.2zM603.5 526.9l2.6 3.7h-5.2zM603.5 510.7l2.6 3.7h-5.2zM604.4 517.3l2.6 3.7h-5.2zM604.5 532.2l2.6 3.7h-5.2zM605.3 519.5l2.6 3.7h-5.2zM605.9 518.3l2.6 3.7h-5.2zM606.1 519.7l2.6 3.7h-5.2zM606.7 524.8l2.6 3.7h-5.2zM607.5 526.5l2.6 3.7h-5.2zM607.7 525.8l2.6 3.7h-5.2zM608.5 525.9l2.6 3.7h-5.2zM608.9 531.4l2.6 3.7h-5.2zM609.3 515.6l2.6 3.7h-5.2zM609.8 515.5l2.6 3.7h-5.2zM610.5 527.6l2.6 3.7h-5.2zM610.5 525.7l2.6 3.7h-5.2zM611.3 521.3l2.6 3.7h-5.2zM611.5 527.3l2.6 3.7h-5.2zM612.2 526.1l2.6 3.7h-5.2zM612.7 521.9l2.6 3.7h-5.2zM613.4 518.0l2.6 3.7h-5.2zM613.9 524.5l2.6 3.7h-5.2zM614.2 531.4l2.6 3.7h-5.2zM614.9 520.3l2.6 3.7h-5.2zM615.2 511.5l2.6 3.7h-5.2zM615.8 512.2l2.6 3.7h-5.2zM616.4 528.8l2.6 3.7h-5.2zM616.9 527.4l2.6 3.7h-5.2zM617.2 527.0l2.6 3.7h-5.2zM617.9 515.7l2.6 3.7h-5.2zM618.2 520.6l2.6 3.7h-5.2zM618.7 528.7l2.6 3.7h-5.2zM619.3 530.9l2.6 3.7h-5.2zM619.6 519.4l2.6 3.7h-5.2zM630.3 532.5l2.6 3.7h-5.2zM630.7 528.8l2.6 3.7h-5.2zM631.4 530.9l2.6 3.7h-5.2zM632.0 524.8l2.6 3.7h-5.2zM632.4 530.2l2.6 3.7h-5.2zM632.9 527.5l2.6 3.7h-5.2zM633.5 530.3l2.6 3.7h-5.2zM633.9 527.3l2.6 3.7h-5.2zM634.2 527.0l2.6 3.7h-5.2zM634.9 531.8l2.6 3.7h-5.2zM635.4 528.3l2.6 3.7h-5.2zM635.6 532.6l2.6 3.7h-5.2zM636.2 524.0l2.6 3.7h-5.2zM636.6 528.8l2.6 3.7h-5.2zM637.2 522.0l2.6 3.7h-5.2zM637.5 526.4l2.6 3.7h-5.2zM638.1 523.7l2.6 3.7h-5.2zM638.6 523.5l2.6 3.7h-5.2zM639.4 523.3l2.6 3.7h-5.2zM639.5 525.6l2.6 3.7h-5.2zM640.3 525.1l2.6 3.7h-5.2zM641.0 527.7l2.6 3.7h-5.2zM641.3 526.9l2.6 3.7h-5.2zM641.9 518.4l2.6 3.7h-5.2zM642.3 523.3l2.6 3.7h-5.2zM642.9 525.3l2.6 3.7h-5.2zM643.2 517.9l2.6 3.7h-5.2zM643.6 522.1l2.6 3.7h-5.2zM644.5 519.3l2.6 3.7h-5.2zM644.7 519.6l2.6 3.7h-5.2zM645.3 516.6l2.6 3.7h-5.2zM645.8 515.8l2.6 3.7h-5.2zM646.0 514.7l2.6 3.7h-5.2zM647.0 515.4l2.6 3.7h-5.2zM647.2 515.8l2.6 3.7h-5.2zM647.7 525.4l2.6 3.7h-5.2zM648.4 520.4l2.6 3.7h-5.2zM648.8 518.9l2.6 3.7h-5.2zM649.2 515.9l2.6 3.7h-5.2zM649.7 524.9l2.6 3.7h-5.2zM650.2 516.7l2.6 3.7h-5.2zM650.6 519.9l2.6 3.7h-5.2zM651.1 515.1l2.6 3.7h-5.2zM651.8 511.7l2.6 3.7h-5.2zM652.2 517.6l2.6 3.7h-5.2zM652.8 513.5l2.6 3.7h-5.2zM653.2 519.2l2.6 3.7h-5.2zM653.9 514.2l2.6 3.7h-5.2zM654.2 514.6l2.6 3.7h-5.2zM655.0 513.6l2.6 3.7h-5.2zM655.1 512.1l2.6 3.7h-5.2zM655.7 515.6l2.6 3.7h-5.2zM656.3 517.1l2.6 3.7h-5.2zM656.9 510.8l2.6 3.7h-5.2zM657.3 516.6l2.6 3.7h-5.2zM657.9 511.0l2.6 3.7h-5.2zM658.0 514.5l2.6 3.7h-5.2zM658.6 513.3l2.6 3.7h-5.2zM659.2 510.4l2.6 3.7h-5.2zM660.0 508.5l2.6 3.7h-5.2zM660.3 509.9l2.6 3.7h-5.2zM660.9 514.5l2.6 3.7h-5.2zM661.1 510.1l2.6 3.7h-5.2zM661.8 511.9l2.6 3.7h-5.2zM662.2 511.9l2.6 3.7h-5.2zM662.8 511.9l2.6 3.7h-5.2zM663.3 502.4l2.6 3.7h-5.2zM663.7 508.9l2.6 3.7h-5.2zM664.1 504.2l2.6 3.7h-5.2zM664.6 506.6l2.6 3.7h-5.2zM665.2 506.7l2.6 3.7h-5.2zM665.6 502.4l2.6 3.7h-5.2zM666.1 503.0l2.6 3.7h-5.2zM666.7 507.3l2.6 3.7h-5.2zM667.4 501.1l2.6 3.7h-5.2zM668.0 505.6l2.6 3.7h-5.2zM668.4 507.3l2.6 3.7h-5.2zM668.6 509.2l2.6 3.7h-5.2zM669.4 502.5l2.6 3.7h-5.2zM669.8 501.5l2.6 3.7h-5.2zM670.1 500.2l2.6 3.7h-5.2zM670.6 500.0l2.6 3.7h-5.2zM671.2 504.3l2.6 3.7h-5.2zM671.7 500.3l2.6 3.7h-5.2zM672.1 500.1l2.6 3.7h-5.2zM673.0 496.7l2.6 3.7h-5.2zM673.4 502.3l2.6 3.7h-5.2zM673.8 502.4l2.6 3.7h-5.2zM674.2 500.2l2.6 3.7h-5.2zM675.0 497.3l2.6 3.7h-5.2zM675.3 500.4l2.6 3.7h-5.2zM675.5 501.5l2.6 3.7h-5.2zM692.1 498.8l2.6 3.7h-5.2zM692.8 507.4l2.6 3.7h-5.2zM693.2 507.9l2.6 3.7h-5.2zM693.7 503.0l2.6 3.7h-5.2zM694.3 510.6l2.6 3.7h-5.2zM694.7 505.7l2.6 3.7h-5.2zM695.3 509.3l2.6 3.7h-5.2zM695.9 509.7l2.6 3.7h-5.2zM696.1 507.3l2.6 3.7h-5.2zM696.5 505.7l2.6 3.7h-5.2zM697.2 501.3l2.6 3.7h-5.2zM697.7 509.1l2.6 3.7h-5.2zM698.2 508.4l2.6 3.7h-5.2zM698.8 511.1l2.6 3.7h-5.2zM699.4 499.8l2.6 3.7h-5.2zM699.6 499.2l2.6 3.7h-5.2zM700.3 503.6l2.6 3.7h-5.2zM700.9 509.2l2.6 3.7h-5.2zM701.2 510.1l2.6 3.7h-5.2zM702.0 499.0l2.6 3.7h-5.2zM702.5 501.1l2.6 3.7h-5.2zM702.8 507.8l2.6 3.7h-5.2zM703.3 509.5l2.6 3.7h-5.2zM704.0 513.3l2.6 3.7h-5.2zM704.4 508.8l2.6 3.7h-5.2zM705.0 499.5l2.6 3.7h-5.2zM705.2 503.9l2.6 3.7h-5.2zM705.6 501.8l2.6 3.7h-5.2zM706.2 508.0l2.6 3.7h-5.2zM706.6 500.2l2.6 3.7h-5.2zM707.3 501.7l2.6 3.7h-5.2zM707.8 507.1l2.6 3.7h-5.2zM708.1 509.4l2.6 3.7h-5.2zM708.8 504.4l2.6 3.7h-5.2zM709.4 505.9l2.6 3.7h-5.2zM709.8 501.1l2.6 3.7h-5.2zM710.1 506.1l2.6 3.7h-5.2zM710.6 501.8l2.6 3.7h-5.2zM711.0 510.8l2.6 3.7h-5.2zM711.6 502.2l2.6 3.7h-5.2zM712.2 509.1l2.6 3.7h-5.2zM712.8 514.7l2.6 3.7h-5.2zM713.3 503.1l2.6 3.7h-5.2zM713.8 510.8l2.6 3.7h-5.2zM714.0 511.8l2.6 3.7h-5.2zM714.7 507.9l2.6 3.7h-5.2zM715.1 505.7l2.6 3.7h-5.2zM715.9 510.2l2.6 3.7h-5.2zM716.1 510.9l2.6 3.7h-5.2zM716.6 507.8l2.6 3.7h-5.2zM717.5 508.4l2.6 3.7h-5.2zM717.7 509.8l2.6 3.7h-5.2zM718.0 504.5l2.6 3.7h-5.2zM718.9 505.4l2.6 3.7h-5.2zM719.1 509.6l2.6 3.7h-5.2zM719.8 513.1l2.6 3.7h-5.2zM720.1 510.9l2.6 3.7h-5.2zM720.6 503.5l2.6 3.7h-5.2zM721.5 510.2l2.6 3.7h-5.2zM721.9 504.1l2.6 3.7h-5.2zM722.2 508.4l2.6 3.7h-5.2zM722.7 501.7l2.6 3.7h-5.2zM723.3 502.1l2.6 3.7h-5.2zM723.6 505.8l2.6 3.7h-5.2zM724.3 507.8l2.6 3.7h-5.2zM724.8 499.4l2.6 3.7h-5.2zM725.2 501.6l2.6 3.7h-5.2zM725.9 505.6l2.6 3.7h-5.2zM726.2 510.5l2.6 3.7h-5.2zM726.9 511.7l2.6 3.7h-5.2zM727.2 508.7l2.6 3.7h-5.2zM727.6 504.5l2.6 3.7h-5.2zM728.4 507.8l2.6 3.7h-5.2zM728.8 503.2l2.6 3.7h-5.2zM729.2 506.0l2.6 3.7h-5.2zM729.7 509.7l2.6 3.7h-5.2zM730.0 507.9l2.6 3.7h-5.2zM730.6 502.8l2.6 3.7h-5.2zM731.1 502.9l2.6 3.7h-5.2zM731.8 498.9l2.6 3.7h-5.2zM732.1 507.4l2.6 3.7h-5.2zM732.6 502.5l2.6 3.7h-5.2zM733.4 501.7l2.6 3.7h-5.2zM733.8 502.3l2.6 3.7h-5.2zM734.4 498.8l2.6 3.7h-5.2zM734.7 500.4l2.6 3.7h-5.2zM735.2 501.4l2.6 3.7h-5.2zM735.6 497.0l2.6 3.7h-5.2zM753.5 474.7l2.6 3.7h-5.2zM753.8 475.6l2.6 3.7h-5.2zM754.4 468.9l2.6 3.7h-5.2zM754.6 475.8l2.6 3.7h-5.2zM755.4 472.2l2.6 3.7h-5.2zM755.8 479.5l2.6 3.7h-5.2zM756.1 476.8l2.6 3.7h-5.2zM757.0 478.1l2.6 3.7h-5.2zM757.1 471.8l2.6 3.7h-5.2zM757.8 470.9l2.6 3.7h-5.2zM758.1 478.2l2.6 3.7h-5.2zM759.0 469.6l2.6 3.7h-5.2zM759.4 477.7l2.6 3.7h-5.2zM759.7 469.3l2.6 3.7h-5.2zM760.1 474.3l2.6 3.7h-5.2zM760.9 475.6l2.6 3.7h-5.2zM761.5 474.1l2.6 3.7h-5.2zM761.8 480.0l2.6 3.7h-5.2zM762.1 472.6l2.6 3.7h-5.2zM762.7 472.9l2.6 3.7h-5.2zM763.1 477.5l2.6 3.7h-5.2zM763.5 468.8l2.6 3.7h-5.2zM764.1 474.1l2.6 3.7h-5.2zM764.7 468.8l2.6 3.7h-5.2zM765.3 471.5l2.6 3.7h-5.2zM765.7 480.9l2.6 3.7h-5.2zM766.4 470.7l2.6 3.7h-5.2zM766.7 474.7l2.6 3.7h-5.2zM767.2 468.0l2.6 3.7h-5.2zM767.8 469.3l2.6 3.7h-5.2zM768.2 471.9l2.6 3.7h-5.2zM768.8 477.2l2.6 3.7h-5.2zM769.2 482.0l2.6 3.7h-5.2zM769.8 473.4l2.6 3.7h-5.2zM770.2 481.4l2.6 3.7h-5.2zM770.7 470.7l2.6 3.7h-5.2zM771.3 482.2l2.6 3.7h-5.2zM771.7 477.7l2.6 3.7h-5.2zM772.2 482.6l2.6 3.7h-5.2zM772.8 477.9l2.6 3.7h-5.2zM773.3 481.5l2.6 3.7h-5.2zM773.8 473.3l2.6 3.7h-5.2zM774.4 475.1l2.6 3.7h-5.2zM775.0 480.2l2.6 3.7h-5.2zM775.4 475.0l2.6 3.7h-5.2zM776.0 480.3l2.6 3.7h-5.2zM776.2 472.0l2.6 3.7h-5.2zM776.9 479.2l2.6 3.7h-5.2zM777.2 469.2l2.6 3.7h-5.2zM777.7 479.7l2.6 3.7h-5.2zM778.2 484.8l2.6 3.7h-5.2zM778.7 472.5l2.6 3.7h-5.2zM779.4 478.1l2.6 3.7h-5.2zM779.5 472.6l2.6 3.7h-5.2zM780.4 476.9l2.6 3.7h-5.2zM780.7 475.8l2.6 3.7h-5.2zM781.3 486.9l2.6 3.7h-5.2zM781.5 474.6l2.6 3.7h-5.2zM782.1 474.0l2.6 3.7h-5.2zM782.9 482.8l2.6 3.7h-5.2zM783.4 471.5l2.6 3.7h-5.2zM783.8 481.6l2.6 3.7h-5.2zM784.3 484.0l2.6 3.7h-5.2zM784.8 480.3l2.6 3.7h-5.2zM785.2 482.5l2.6 3.7h-5.2zM785.9 472.1l2.6 3.7h-5.2zM786.2 474.2l2.6 3.7h-5.2zM786.8 480.7l2.6 3.7h-5.2zM787.2 483.4l2.6 3.7h-5.2zM787.6 480.8l2.6 3.7h-5.2zM788.4 486.7l2.6 3.7h-5.2zM788.9 475.9l2.6 3.7h-5.2zM789.4 484.0l2.6 3.7h-5.2zM789.8 486.8l2.6 3.7h-5.2zM790.2 484.3l2.6 3.7h-5.2zM790.6 478.7l2.6 3.7h-5.2zM791.4 478.3l2.6 3.7h-5.2zM791.8 481.8l2.6 3.7h-5.2zM792.1 485.2l2.6 3.7h-5.2zM792.8 478.0l2.6 3.7h-5.2zM793.3 485.2l2.6 3.7h-5.2zM793.8 486.8l2.6 3.7h-5.2zM794.3 482.4l2.6 3.7h-5.2zM794.6 485.4l2.6 3.7h-5.2zM795.3 482.7l2.6 3.7h-5.2zM795.7 480.9l2.6 3.7h-5.2zM796.1 486.5l2.6 3.7h-5.2zM796.9 482.1l2.6 3.7h-5.2zM815.1 474.9l2.6 3.7h-5.2zM815.7 471.5l2.6 3.7h-5.2zM816.5 472.8l2.6 3.7h-5.2zM816.9 476.3l2.6 3.7h-5.2zM817.1 474.1l2.6 3.7h-5.2zM817.6 478.8l2.6 3.7h-5.2zM818.5 470.0l2.6 3.7h-5.2zM818.7 474.0l2.6 3.7h-5.2zM819.5 475.4l2.6 3.7h-5.2zM819.6 469.9l2.6 3.7h-5.2zM820.2 470.9l2.6 3.7h-5.2zM820.6 476.7l2.6 3.7h-5.2zM821.3 472.5l2.6 3.7h-5.2zM821.6 471.7l2.6 3.7h-5.2zM822.2 470.1l2.6 3.7h-5.2zM822.7 470.0l2.6 3.7h-5.2zM823.3 470.2l2.6 3.7h-5.2zM823.8 475.3l2.6 3.7h-5.2zM824.3 472.9l2.6 3.7h-5.2zM824.8 468.9l2.6 3.7h-5.2zM825.2 467.6l2.6 3.7h-5.2zM825.9 471.6l2.6 3.7h-5.2zM826.4 468.2l2.6 3.7h-5.2zM826.9 474.8l2.6 3.7h-5.2zM827.3 475.7l2.6 3.7h-5.2zM827.7 470.6l2.6 3.7h-5.2zM828.4 473.0l2.6 3.7h-5.2zM829.0 470.8l2.6 3.7h-5.2zM829.4 471.5l2.6 3.7h-5.2zM829.7 476.9l2.6 3.7h-5.2zM830.3 466.6l2.6 3.7h-5.2zM830.8 466.7l2.6 3.7h-5.2zM831.4 472.1l2.6 3.7h-5.2zM831.6 472.7l2.6 3.7h-5.2zM832.0 470.1l2.6 3.7h-5.2zM832.6 470.2l2.6 3.7h-5.2zM833.4 465.3l2.6 3.7h-5.2zM833.6 468.0l2.6 3.7h-5.2zM834.4 467.3l2.6 3.7h-5.2zM834.8 470.2l2.6 3.7h-5.2zM835.3 470.7l2.6 3.7h-5.2zM835.6 469.8l2.6 3.7h-5.2zM836.5 465.4l2.6 3.7h-5.2zM836.9 467.8l2.6 3.7h-5.2zM837.3 472.2l2.6 3.7h-5.2zM837.6 475.5l2.6 3.7h-5.2zM838.2 476.9l2.6 3.7h-5.2zM838.7 467.3l2.6 3.7h-5.2zM839.2 467.4l2.6 3.7h-5.2zM839.9 471.4l2.6 3.7h-5.2zM840.2 466.9l2.6 3.7h-5.2zM840.7 465.5l2.6 3.7h-5.2zM841.4 468.5l2.6 3.7h-5.2zM842.0 471.2l2.6 3.7h-5.2zM842.1 474.6l2.6 3.7h-5.2zM842.9 477.3l2.6 3.7h-5.2zM843.1 467.2l2.6 3.7h-5.2zM843.8 469.8l2.6 3.7h-5.2zM844.4 472.5l2.6 3.7h-5.2zM844.7 474.3l2.6 3.7h-5.2zM845.1 475.6l2.6 3.7h-5.2zM845.7 468.6l2.6 3.7h-5.2zM846.1 470.1l2.6 3.7h-5.2zM846.8 469.5l2.6 3.7h-5.2zM847.1 471.3l2.6 3.7h-5.2zM847.6 467.2l2.6 3.7h-5.2zM848.1 472.9l2.6 3.7h-5.2zM848.9 477.0l2.6 3.7h-5.2zM849.4 471.7l2.6 3.7h-5.2zM849.7 470.1l2.6 3.7h-5.2zM850.4 477.1l2.6 3.7h-5.2zM850.9 467.8l2.6 3.7h-5.2zM851.2 470.5l2.6 3.7h-5.2zM851.6 473.5l2.6 3.7h-5.2zM852.3 470.7l2.6 3.7h-5.2zM852.8 476.5l2.6 3.7h-5.2zM853.4 469.6l2.6 3.7h-5.2zM853.8 469.4l2.6 3.7h-5.2zM854.4 471.4l2.6 3.7h-5.2zM854.6 480.9l2.6 3.7h-5.2zM855.2 471.0l2.6 3.7h-5.2zM855.7 472.1l2.6 3.7h-5.2zM856.3 469.3l2.6 3.7h-5.2zM856.6 470.5l2.6 3.7h-5.2zM875.3 493.2l2.6 3.7h-5.2zM875.9 496.0l2.6 3.7h-5.2zM876.1 498.0l2.6 3.7h-5.2zM876.8 493.9l2.6 3.7h-5.2zM877.2 493.5l2.6 3.7h-5.2zM877.9 499.0l2.6 3.7h-5.2zM878.3 492.7l2.6 3.7h-5.2zM878.5 494.9l2.6 3.7h-5.2zM879.4 491.1l2.6 3.7h-5.2zM879.9 498.6l2.6 3.7h-5.2zM880.3 496.1l2.6 3.7h-5.2zM880.9 500.3l2.6 3.7h-5.2zM881.0 497.3l2.6 3.7h-5.2zM881.8 502.4l2.6 3.7h-5.2zM882.1 497.5l2.6 3.7h-5.2zM882.7 496.7l2.6 3.7h-5.2zM883.4 499.9l2.6 3.7h-5.2zM883.8 502.2l2.6 3.7h-5.2zM884.1 495.9l2.6 3.7h-5.2zM884.9 497.0l2.6 3.7h-5.2zM885.1 497.9l2.6 3.7h-5.2zM885.8 492.5l2.6 3.7h-5.2zM886.0 504.9l2.6 3.7h-5.2zM886.5 499.8l2.6 3.7h-5.2zM887.4 505.5l2.6 3.7h-5.2zM887.5 494.4l2.6 3.7h-5.2zM888.3 504.6l2.6 3.7h-5.2zM889.0 506.7l2.6 3.7h-5.2zM889.5 505.3l2.6 3.7h-5.2zM890.0 501.9l2.6 3.7h-5.2zM890.4 507.3l2.6 3.7h-5.2zM890.7 499.8l2.6 3.7h-5.2zM891.1 499.1l2.6 3.7h-5.2zM891.9 503.9l2.6 3.7h-5.2zM892.2 499.4l2.6 3.7h-5.2zM892.9 510.1l2.6 3.7h-5.2zM893.1 502.2l2.6 3.7h-5.2zM893.7 508.1l2.6 3.7h-5.2zM894.3 499.6l2.6 3.7h-5.2zM894.6 500.5l2.6 3.7h-5.2zM895.3 500.9l2.6 3.7h-5.2zM895.9 498.7l2.6 3.7h-5.2zM896.0 499.0l2.6 3.7h-5.2zM896.8 503.8l2.6 3.7h-5.2zM897.3 501.1l2.6 3.7h-5.2zM897.9 508.9l2.6 3.7h-5.2zM898.5 502.1l2.6 3.7h-5.2zM898.8 507.6l2.6 3.7h-5.2zM899.1 504.0l2.6 3.7h-5.2zM899.8 501.8l2.6 3.7h-5.2zM900.0 508.9l2.6 3.7h-5.2zM900.5 505.9l2.6 3.7h-5.2zM901.4 506.1l2.6 3.7h-5.2zM902.0 505.8l2.6 3.7h-5.2zM902.2 508.5l2.6 3.7h-5.2zM902.8 503.2l2.6 3.7h-5.2zM903.4 502.2l2.6 3.7h-5.2zM903.5 501.5l2.6 3.7h-5.2zM904.1 503.9l2.6 3.7h-5.2zM904.7 505.8l2.6 3.7h-5.2zM905.3 506.1l2.6 3.7h-5.2zM905.9 505.8l2.6 3.7h-5.2zM906.2 502.3l2.6 3.7h-5.2zM906.5 500.3l2.6 3.7h-5.2zM907.2 501.3l2.6 3.7h-5.2zM907.9 507.5l2.6 3.7h-5.2z" fill="#000"/><path d="M574.6 45.6C577 43 580 41 582.2 43.5C584 46 584.6 50 584.2 55M591.1 43.2L580.3 64.1" fill="none" stroke="#000" stroke-width="2" stroke-linecap="round"/><g font-family="Liberation Serif" fill="#000"><text x="171.39" y="57.04" font-size="33.84" textLength="91.65" lengthAdjust="spacingAndGlyphs">RXTE,</text><text x="281.42" y="57.04" font-size="33.84" textLength="90.20" lengthAdjust="spacingAndGlyphs">GHRS</text><text x="387.44" y="57.04" font-size="33.84" textLength="104.18" lengthAdjust="spacingAndGlyphs">fluxes</text><text x="507.68" y="57.04" font-size="33.84" textLength="49.09" lengthAdjust="spacingAndGlyphs">for</text><text x="609.50" y="57.04" font-size="33.84" textLength="69.26" lengthAdjust="spacingAndGlyphs">Cas:</text><text x="261.96" y="87.07" font-size="30.19" textLength="68.21" lengthAdjust="spacingAndGlyphs">1996</text><text x="345.22" y="87.07" font-size="30.19" textLength="88.39" lengthAdjust="spacingAndGlyphs">March</text><text x="450.91" y="87.07" font-size="30.19" textLength="92.26" lengthAdjust="spacingAndGlyphs">14−15</text><text x="74.21" y="82.01" font-size="28.75" textLength="58.39" lengthAdjust="spacingAndGlyphs">0.00</text><text x="53.00" y="231.80" font-size="29.34" textLength="80.29" lengthAdjust="spacingAndGlyphs">−0.02</text><text x="53.41" y="380.38" font-size="28.81" textLength="78.52" lengthAdjust="spacingAndGlyphs">−0.04</text><text x="53.08" y="529.11" font-size="28.77" textLength="79.44" lengthAdjust="spacingAndGlyphs">−0.06</text><text x="132.18" y="691.59" font-size="28.67" textLength="17.35" lengthAdjust="spacingAndGlyphs">0</text><text x="413.74" y="691.82" font-size="29.02" textLength="51.32" lengthAdjust="spacingAndGlyphs">500</text><text x="705.15" y="691.12" font-size="29.39" textLength="66.91" lengthAdjust="spacingAndGlyphs">1000</text><text x="1005.45" y="691.76" font-size="29.22" textLength="65.61" lengthAdjust="spacingAndGlyphs">1500</text><text x="508.56" y="724.87" font-size="28.34" textLength="68.47" lengthAdjust="spacingAndGlyphs">Time</text><text x="591.26" y="724.87" font-size="28.34" textLength="78.59" lengthAdjust="spacingAndGlyphs">(min)</text><text x="889.00" y="154.20" font-size="23.11" textLength="27.33" lengthAdjust="spacingAndGlyphs" stroke="#000" stroke-width="1.0">XR</text><text x="929.27" y="154.20" font-size="23.11" textLength="73.41" lengthAdjust="spacingAndGlyphs" stroke="#000" stroke-width="0.6">means</text><text x="931.15" y="310.04" font-size="23.06" textLength="25.36" lengthAdjust="spacingAndGlyphs" stroke="#000" stroke-width="0.8">Fe</text><text x="968.10" y="310.04" font-size="23.06" textLength="12.57" lengthAdjust="spacingAndGlyphs" stroke="#000" stroke-width="1.0">V</text><text x="930.07" y="489.99" font-size="22.32" textLength="20.53" lengthAdjust="spacingAndGlyphs" stroke="#000" stroke-width="0.8">Si</text><text x="963.14" y="489.99" font-size="22.32" textLength="21.08" lengthAdjust="spacingAndGlyphs" stroke="#000" stroke-width="0.8">III</text><text x="930.99" y="509.28" font-size="20.42" textLength="61.66" lengthAdjust="spacingAndGlyphs" stroke="#000" stroke-width="0.5">cloud</text><text x="930.29" y="547.46" font-size="21.40" textLength="19.31" lengthAdjust="spacingAndGlyphs" stroke="#000" stroke-width="0.8">Si</text><text x="963.00" y="547.46" font-size="21.40" textLength="19.54" lengthAdjust="spacingAndGlyphs" stroke="#000" stroke-width="0.9">IV</text><text x="930.82" y="566.50" font-size="20.69" textLength="61.37" lengthAdjust="spacingAndGlyphs" stroke="#000" stroke-width="0.5">cloud</text><text x="876.90" y="591.91" font-size="23.96" textLength="67.23" lengthAdjust="spacingAndGlyphs" stroke="#000" stroke-width="0.4">(−170</text><text x="956.00" y="591.91" font-size="23.96" textLength="71.17" lengthAdjust="spacingAndGlyphs" stroke="#000" stroke-width="0.4">km/s)</text><text transform="translate(29.6,378.9) rotate(-90)" x="0" y="0" font-size="29.8" textLength="91.8" lengthAdjust="spacingAndGlyphs">Fluxes</text></g>
</svg>
</body></html>
